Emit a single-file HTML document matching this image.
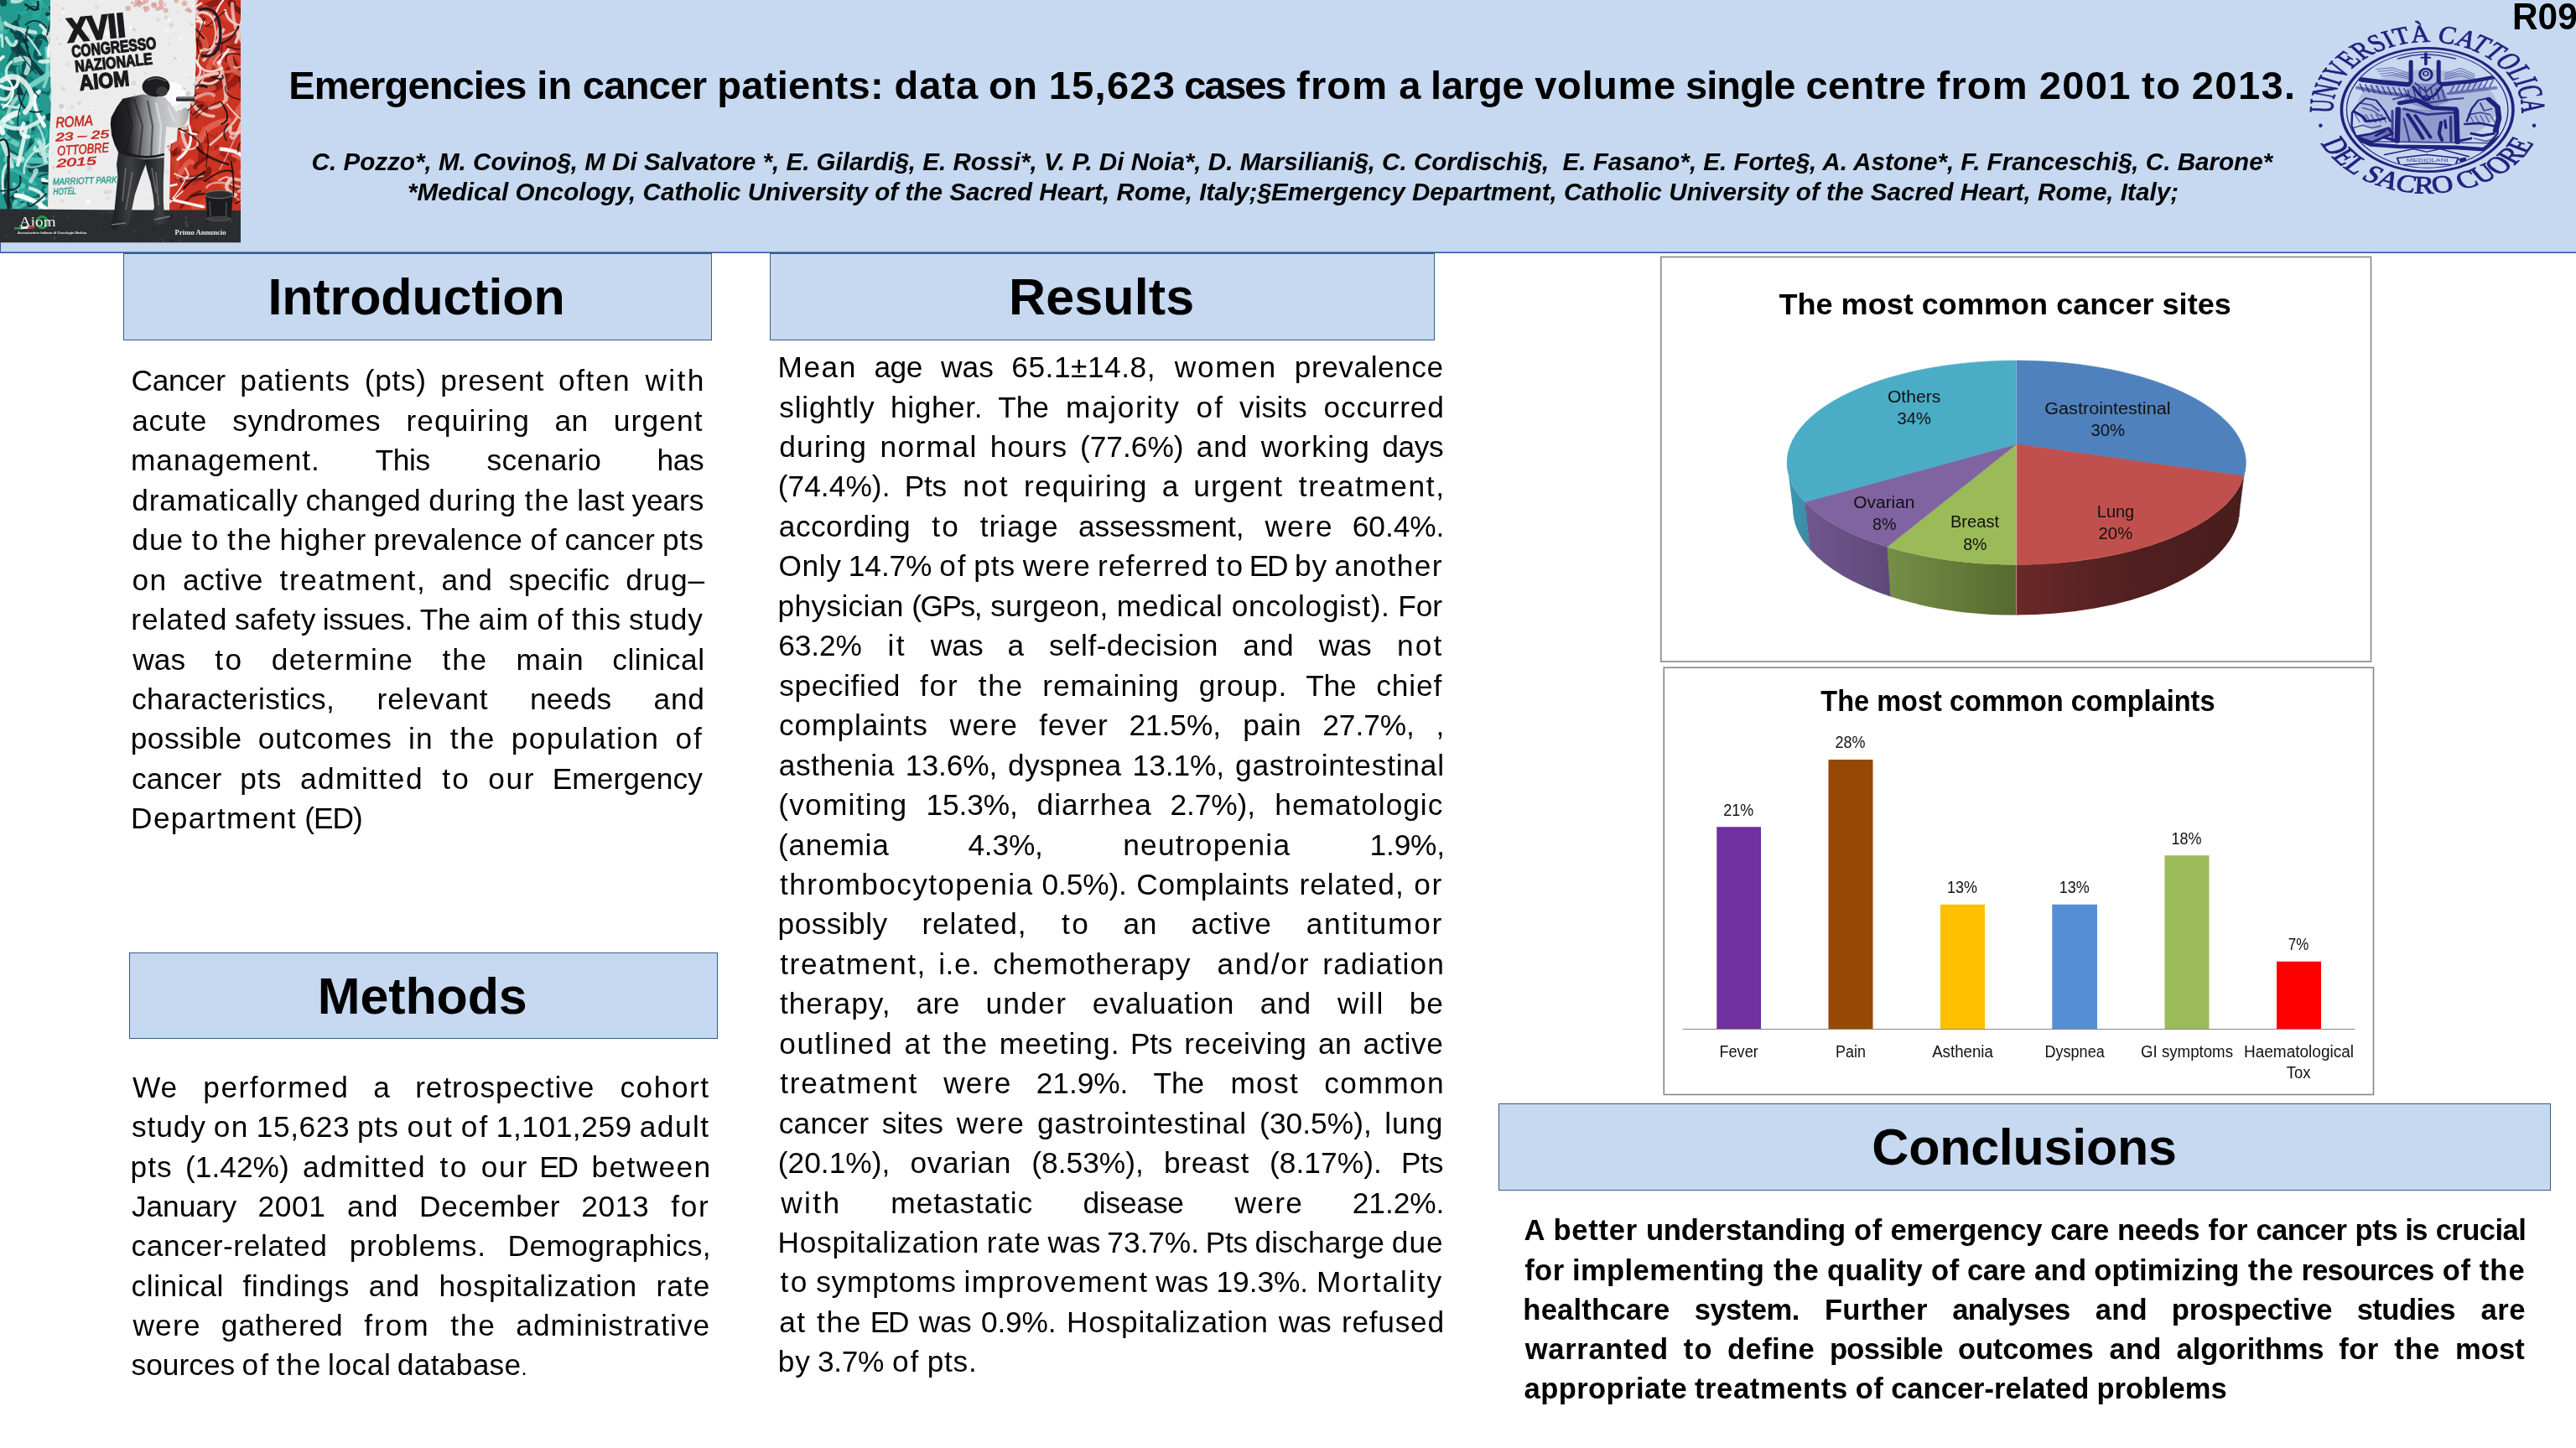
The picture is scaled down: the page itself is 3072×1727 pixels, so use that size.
<!DOCTYPE html>
<html lang="en"><head><meta charset="utf-8"><title>Emergencies in cancer patients</title>
<style>
html,body{margin:0;padding:0;background:#fff;}
body{width:3072px;height:1727px;position:relative;overflow:hidden;font-family:'Liberation Sans',sans-serif;color:#000;}
#poster{position:absolute;left:0;top:0;width:3072px;height:1727px;overflow:hidden;will-change:transform;}
.abs{position:absolute;}
.hdr{position:absolute;left:0;top:0;width:3072px;height:300px;background:#C6D9F1;border-left:1.3px solid #2F5597;box-sizing:border-box;}
.hline{position:absolute;left:0;width:3072px;height:1px;}
.box{position:absolute;background:#C6D9F1;border:1px solid #385D8A;box-sizing:border-box;}
.ln{position:absolute;white-space:pre;line-height:1;font-family:'Liberation Sans',sans-serif;}
.w{position:absolute;top:0;white-space:pre;}
.chartbox{position:absolute;background:#fff;border:1.6px solid #868686;box-sizing:border-box;}
svg{position:absolute;overflow:visible;}
svg text{font-family:'Liberation Sans',sans-serif;}
</style></head>
<body>
<div id="poster">
<div class="hdr"></div><div class="hline" style="top:300px;background:#6F8FC0"></div><div class="hline" style="top:301px;background:#2F5597"></div>
<svg style="left:0;top:0" width="287.0" height="289.5" viewBox="0 0 287.0 289.5">
<defs><clipPath id="lgAll"><rect x="0" y="0" width="287" height="289.5"/></clipPath><clipPath id="lgTeal"><path d="M0 0 H60 L59 60 L61 120 L58 180 L57 251 H0 Z"/></clipPath><clipPath id="lgRed"><path d="M233 0 L234 60 L232.5 112 L227 124 L226 150 L212 153 L211 168 L203.5 172 L202 251 H287 V0 Z"/></clipPath><linearGradient id="lgShirt" x1="0" x2="1" y1="0" y2="0"><stop offset="0" stop-color="#141416"/><stop offset="0.24" stop-color="#252527"/><stop offset="0.42" stop-color="#7d7e81"/><stop offset="0.6" stop-color="#b9babd"/><stop offset="0.85" stop-color="#cfd0d2"/><stop offset="1" stop-color="#a2a2a5"/></linearGradient><linearGradient id="lgLeg" x1="0" x2="1" y1="0" y2="0"><stop offset="0" stop-color="#1a1b1d"/><stop offset="0.55" stop-color="#3c3e42"/><stop offset="1" stop-color="#222326"/></linearGradient></defs>
<g clip-path="url(#lgAll)">
<rect x="0" y="0" width="287" height="252" fill="#ECECEC"/>
<circle cx="115.7" cy="37.7" r="2.2" fill="#d4d4d6" fill-opacity="0.8"/>
<circle cx="201.3" cy="23.5" r="2.0" fill="#ffffff" fill-opacity="0.8"/>
<circle cx="96.9" cy="21.5" r="1.6" fill="#dcdcde" fill-opacity="0.8"/>
<circle cx="75.6" cy="106.1" r="2.6" fill="#d4d4d6" fill-opacity="0.8"/>
<circle cx="223.0" cy="157.7" r="2.0" fill="#d4d4d6" fill-opacity="0.8"/>
<circle cx="159.3" cy="99.2" r="2.9" fill="#d4d4d6" fill-opacity="0.8"/>
<circle cx="155.7" cy="33.3" r="1.6" fill="#ffffff" fill-opacity="0.8"/>
<circle cx="80.3" cy="77.1" r="2.6" fill="#dcdcde" fill-opacity="0.8"/>
<circle cx="77.7" cy="142.8" r="1.1" fill="#d4d4d6" fill-opacity="0.8"/>
<circle cx="154.2" cy="15.7" r="0.7" fill="#dcdcde" fill-opacity="0.8"/>
<circle cx="145.4" cy="132.9" r="2.5" fill="#f8f8f8" fill-opacity="0.8"/>
<circle cx="160.7" cy="113.3" r="1.3" fill="#dcdcde" fill-opacity="0.8"/>
<circle cx="180.2" cy="61.0" r="2.0" fill="#ffffff" fill-opacity="0.8"/>
<circle cx="145.2" cy="85.9" r="1.7" fill="#ffffff" fill-opacity="0.8"/>
<circle cx="228.6" cy="29.5" r="1.6" fill="#c8c9cc" fill-opacity="0.8"/>
<circle cx="86.1" cy="122.2" r="0.7" fill="#d4d4d6" fill-opacity="0.8"/>
<circle cx="191.5" cy="143.3" r="2.7" fill="#c8c9cc" fill-opacity="0.8"/>
<circle cx="118.5" cy="87.5" r="1.8" fill="#f8f8f8" fill-opacity="0.8"/>
<circle cx="71.8" cy="23.4" r="1.2" fill="#d4d4d6" fill-opacity="0.8"/>
<circle cx="70.4" cy="175.4" r="2.2" fill="#f8f8f8" fill-opacity="0.8"/>
<circle cx="109.0" cy="96.4" r="2.2" fill="#d4d4d6" fill-opacity="0.8"/>
<circle cx="221.8" cy="88.9" r="2.1" fill="#f8f8f8" fill-opacity="0.8"/>
<circle cx="70.1" cy="192.1" r="0.9" fill="#dcdcde" fill-opacity="0.8"/>
<circle cx="128.4" cy="229.2" r="1.8" fill="#dcdcde" fill-opacity="0.8"/>
<circle cx="137.3" cy="137.4" r="2.7" fill="#f8f8f8" fill-opacity="0.8"/>
<circle cx="208.6" cy="69.6" r="1.6" fill="#c8c9cc" fill-opacity="0.8"/>
<circle cx="177.4" cy="95.1" r="1.2" fill="#d4d4d6" fill-opacity="0.8"/>
<circle cx="90.3" cy="58.0" r="1.2" fill="#f8f8f8" fill-opacity="0.8"/>
<circle cx="202.9" cy="45.6" r="1.3" fill="#dcdcde" fill-opacity="0.8"/>
<circle cx="132.1" cy="92.3" r="2.0" fill="#dcdcde" fill-opacity="0.8"/>
<circle cx="178.8" cy="128.9" r="2.1" fill="#d4d4d6" fill-opacity="0.8"/>
<circle cx="138.5" cy="217.7" r="2.9" fill="#ffffff" fill-opacity="0.8"/>
<circle cx="127.5" cy="99.7" r="0.8" fill="#f8f8f8" fill-opacity="0.8"/>
<circle cx="70.7" cy="16.8" r="1.1" fill="#dcdcde" fill-opacity="0.8"/>
<circle cx="78.9" cy="150.2" r="0.8" fill="#ffffff" fill-opacity="0.8"/>
<circle cx="86.0" cy="25.4" r="1.5" fill="#d4d4d6" fill-opacity="0.8"/>
<circle cx="72.1" cy="52.0" r="1.5" fill="#c8c9cc" fill-opacity="0.8"/>
<circle cx="224.3" cy="150.6" r="1.7" fill="#d4d4d6" fill-opacity="0.8"/>
<circle cx="206.0" cy="248.3" r="1.7" fill="#f8f8f8" fill-opacity="0.8"/>
<circle cx="113.6" cy="36.0" r="2.4" fill="#c8c9cc" fill-opacity="0.8"/>
<circle cx="142.3" cy="173.0" r="1.8" fill="#dcdcde" fill-opacity="0.8"/>
<circle cx="223.6" cy="132.1" r="1.0" fill="#ffffff" fill-opacity="0.8"/>
<circle cx="217.2" cy="189.5" r="1.3" fill="#d4d4d6" fill-opacity="0.8"/>
<circle cx="179.7" cy="65.3" r="1.5" fill="#dcdcde" fill-opacity="0.8"/>
<circle cx="121.2" cy="55.7" r="1.9" fill="#ffffff" fill-opacity="0.8"/>
<circle cx="116.7" cy="55.8" r="2.5" fill="#dcdcde" fill-opacity="0.8"/>
<circle cx="198.6" cy="204.6" r="2.4" fill="#dcdcde" fill-opacity="0.8"/>
<circle cx="94.4" cy="123.2" r="2.4" fill="#d4d4d6" fill-opacity="0.8"/>
<circle cx="195.9" cy="118.1" r="1.1" fill="#ffffff" fill-opacity="0.8"/>
<circle cx="224.5" cy="111.8" r="2.8" fill="#c8c9cc" fill-opacity="0.8"/>
<circle cx="224.3" cy="91.2" r="1.1" fill="#dcdcde" fill-opacity="0.8"/>
<circle cx="140.9" cy="84.4" r="1.8" fill="#ffffff" fill-opacity="0.8"/>
<circle cx="204.6" cy="119.9" r="2.2" fill="#d4d4d6" fill-opacity="0.8"/>
<circle cx="203.6" cy="30.0" r="1.5" fill="#dcdcde" fill-opacity="0.8"/>
<circle cx="142.2" cy="44.6" r="2.5" fill="#c8c9cc" fill-opacity="0.8"/>
<circle cx="74.9" cy="236.5" r="2.3" fill="#f8f8f8" fill-opacity="0.8"/>
<circle cx="129.0" cy="236.7" r="2.3" fill="#dcdcde" fill-opacity="0.8"/>
<circle cx="230.8" cy="6.9" r="2.0" fill="#f8f8f8" fill-opacity="0.8"/>
<circle cx="198.7" cy="36.5" r="2.6" fill="#f8f8f8" fill-opacity="0.8"/>
<circle cx="173.1" cy="87.6" r="1.9" fill="#dcdcde" fill-opacity="0.8"/>
<circle cx="63.7" cy="199.8" r="2.3" fill="#d4d4d6" fill-opacity="0.8"/>
<circle cx="150.6" cy="233.4" r="1.6" fill="#dcdcde" fill-opacity="0.8"/>
<circle cx="202.1" cy="52.8" r="1.2" fill="#c8c9cc" fill-opacity="0.8"/>
<circle cx="146.2" cy="190.9" r="1.4" fill="#ffffff" fill-opacity="0.8"/>
<circle cx="132.1" cy="32.8" r="2.8" fill="#c8c9cc" fill-opacity="0.8"/>
<circle cx="214.4" cy="165.6" r="2.6" fill="#ffffff" fill-opacity="0.8"/>
<circle cx="132.3" cy="229.4" r="1.8" fill="#ffffff" fill-opacity="0.8"/>
<circle cx="86.1" cy="127.6" r="2.7" fill="#dcdcde" fill-opacity="0.8"/>
<circle cx="164.7" cy="194.0" r="1.0" fill="#dcdcde" fill-opacity="0.8"/>
<circle cx="141.4" cy="181.3" r="1.9" fill="#c8c9cc" fill-opacity="0.8"/>
<circle cx="177.4" cy="132.7" r="1.8" fill="#d4d4d6" fill-opacity="0.8"/>
<circle cx="211.9" cy="14.2" r="1.1" fill="#d4d4d6" fill-opacity="0.8"/>
<circle cx="192.8" cy="126.9" r="1.9" fill="#d4d4d6" fill-opacity="0.8"/>
<circle cx="136.2" cy="153.1" r="1.8" fill="#ffffff" fill-opacity="0.8"/>
<circle cx="94.3" cy="69.3" r="1.8" fill="#f8f8f8" fill-opacity="0.8"/>
<circle cx="147.3" cy="61.9" r="1.9" fill="#c8c9cc" fill-opacity="0.8"/>
<circle cx="218.7" cy="223.2" r="1.1" fill="#f8f8f8" fill-opacity="0.8"/>
<circle cx="83.6" cy="30.4" r="1.7" fill="#d4d4d6" fill-opacity="0.8"/>
<circle cx="175.4" cy="107.1" r="1.1" fill="#c8c9cc" fill-opacity="0.8"/>
<circle cx="194.8" cy="224.3" r="1.0" fill="#c8c9cc" fill-opacity="0.8"/>
<circle cx="84.6" cy="220.7" r="2.9" fill="#dcdcde" fill-opacity="0.8"/>
<circle cx="188.4" cy="23.5" r="2.7" fill="#dcdcde" fill-opacity="0.8"/>
<circle cx="230.3" cy="208.1" r="1.0" fill="#f8f8f8" fill-opacity="0.8"/>
<circle cx="231.0" cy="101.0" r="1.6" fill="#c8c9cc" fill-opacity="0.8"/>
<circle cx="114.8" cy="180.5" r="0.6" fill="#ffffff" fill-opacity="0.8"/>
<circle cx="138.9" cy="175.8" r="1.5" fill="#ffffff" fill-opacity="0.8"/>
<circle cx="167.3" cy="128.1" r="0.8" fill="#dcdcde" fill-opacity="0.8"/>
<circle cx="227.1" cy="26.2" r="1.2" fill="#d4d4d6" fill-opacity="0.8"/>
<circle cx="215.8" cy="45.4" r="2.4" fill="#f8f8f8" fill-opacity="0.8"/>
<circle cx="206.1" cy="169.0" r="2.9" fill="#f8f8f8" fill-opacity="0.8"/>
<circle cx="85.7" cy="229.8" r="2.0" fill="#c8c9cc" fill-opacity="0.8"/>
<circle cx="75.4" cy="14.4" r="2.3" fill="#f8f8f8" fill-opacity="0.8"/>
<circle cx="214.0" cy="67.2" r="0.6" fill="#d4d4d6" fill-opacity="0.8"/>
<circle cx="197.9" cy="20.9" r="2.7" fill="#d4d4d6" fill-opacity="0.8"/>
<circle cx="105.5" cy="30.4" r="0.6" fill="#ffffff" fill-opacity="0.8"/>
<circle cx="131.9" cy="228.9" r="2.1" fill="#d4d4d6" fill-opacity="0.8"/>
<circle cx="150.6" cy="59.6" r="0.9" fill="#dcdcde" fill-opacity="0.8"/>
<circle cx="105.0" cy="45.3" r="2.8" fill="#c8c9cc" fill-opacity="0.8"/>
<circle cx="151.3" cy="51.5" r="1.7" fill="#dcdcde" fill-opacity="0.8"/>
<circle cx="106.5" cy="200.9" r="3.0" fill="#d4d4d6" fill-opacity="0.8"/>
<circle cx="62.6" cy="183.3" r="1.9" fill="#dcdcde" fill-opacity="0.8"/>
<circle cx="148.4" cy="61.4" r="1.7" fill="#f8f8f8" fill-opacity="0.8"/>
<circle cx="172.9" cy="136.5" r="2.7" fill="#ffffff" fill-opacity="0.8"/>
<circle cx="112.9" cy="53.8" r="1.2" fill="#dcdcde" fill-opacity="0.8"/>
<circle cx="203.2" cy="176.7" r="2.1" fill="#f8f8f8" fill-opacity="0.8"/>
<circle cx="230.2" cy="245.5" r="2.6" fill="#d4d4d6" fill-opacity="0.8"/>
<circle cx="72.2" cy="185.2" r="1.2" fill="#dcdcde" fill-opacity="0.8"/>
<circle cx="69.5" cy="166.3" r="1.5" fill="#ffffff" fill-opacity="0.8"/>
<circle cx="175.3" cy="70.5" r="1.2" fill="#c8c9cc" fill-opacity="0.8"/>
<circle cx="67.8" cy="46.3" r="1.2" fill="#d4d4d6" fill-opacity="0.8"/>
<circle cx="105.3" cy="240.4" r="2.9" fill="#ffffff" fill-opacity="0.8"/>
<circle cx="115.6" cy="8.6" r="2.7" fill="#dcdcde" fill-opacity="0.8"/>
<circle cx="121.3" cy="0.3" r="1.5" fill="#f8f8f8" fill-opacity="0.8"/>
<circle cx="108.0" cy="164.0" r="1.2" fill="#d4d4d6" fill-opacity="0.8"/>
<circle cx="75.6" cy="204.3" r="0.9" fill="#ffffff" fill-opacity="0.8"/>
<circle cx="67.2" cy="5.6" r="1.3" fill="#dcdcde" fill-opacity="0.8"/>
<circle cx="74.5" cy="239.4" r="2.6" fill="#dcdcde" fill-opacity="0.8"/>
<circle cx="173.1" cy="179.0" r="2.7" fill="#f8f8f8" fill-opacity="0.8"/>
<circle cx="191.5" cy="180.2" r="1.8" fill="#c8c9cc" fill-opacity="0.8"/>
<circle cx="184.6" cy="160.8" r="0.7" fill="#ffffff" fill-opacity="0.8"/>
<circle cx="167.9" cy="183.5" r="2.5" fill="#dcdcde" fill-opacity="0.8"/>
<circle cx="216.5" cy="188.2" r="2.0" fill="#d4d4d6" fill-opacity="0.8"/>
<circle cx="202.1" cy="146.0" r="2.7" fill="#dcdcde" fill-opacity="0.8"/>
<circle cx="74.6" cy="10.5" r="2.1" fill="#d4d4d6" fill-opacity="0.8"/>
<circle cx="124.8" cy="112.8" r="0.7" fill="#d4d4d6" fill-opacity="0.8"/>
<circle cx="167.7" cy="170.2" r="1.8" fill="#d4d4d6" fill-opacity="0.8"/>
<circle cx="138.6" cy="17.5" r="2.8" fill="#ffffff" fill-opacity="0.8"/>
<circle cx="75.8" cy="131.5" r="2.4" fill="#f8f8f8" fill-opacity="0.8"/>
<circle cx="103.4" cy="18.6" r="1.2" fill="#dcdcde" fill-opacity="0.8"/>
<circle cx="99.7" cy="162.5" r="1.7" fill="#f8f8f8" fill-opacity="0.8"/>
<circle cx="73.2" cy="227.6" r="1.3" fill="#d4d4d6" fill-opacity="0.8"/>
<circle cx="166.1" cy="160.7" r="0.8" fill="#dcdcde" fill-opacity="0.8"/>
<circle cx="117.1" cy="162.9" r="2.3" fill="#ffffff" fill-opacity="0.8"/>
<circle cx="157.7" cy="3.1" r="0.7" fill="#c8c9cc" fill-opacity="0.8"/>
<circle cx="227.3" cy="24.9" r="1.1" fill="#f8f8f8" fill-opacity="0.8"/>
<circle cx="110.0" cy="129.1" r="1.7" fill="#f8f8f8" fill-opacity="0.8"/>
<circle cx="192.0" cy="248.3" r="1.9" fill="#c8c9cc" fill-opacity="0.8"/>
<circle cx="228.2" cy="234.1" r="0.6" fill="#f8f8f8" fill-opacity="0.8"/>
<circle cx="73.2" cy="126.7" r="3.0" fill="#c8c9cc" fill-opacity="0.8"/>
<circle cx="126.5" cy="229.1" r="2.8" fill="#d4d4d6" fill-opacity="0.8"/>
<circle cx="160.0" cy="35.4" r="1.9" fill="#c8c9cc" fill-opacity="0.8"/>
<circle cx="82.8" cy="205.1" r="1.8" fill="#d4d4d6" fill-opacity="0.8"/>
<circle cx="181.0" cy="57.8" r="2.8" fill="#f8f8f8" fill-opacity="0.8"/>
<circle cx="127.8" cy="39.8" r="2.9" fill="#f8f8f8" fill-opacity="0.8"/>
<circle cx="129.7" cy="181.8" r="1.6" fill="#f8f8f8" fill-opacity="0.8"/>
<circle cx="114.4" cy="210.1" r="0.6" fill="#c8c9cc" fill-opacity="0.8"/>
<circle cx="204.3" cy="30.0" r="2.8" fill="#d4d4d6" fill-opacity="0.8"/>
<circle cx="215.1" cy="72.5" r="1.5" fill="#f8f8f8" fill-opacity="0.8"/>
<circle cx="127.1" cy="217.5" r="0.8" fill="#f8f8f8" fill-opacity="0.8"/>
<circle cx="190.0" cy="213.6" r="1.3" fill="#d4d4d6" fill-opacity="0.8"/>
<circle cx="220.1" cy="4.0" r="3.3" fill="#d9857c" fill-opacity="0.55"/>
<circle cx="170.9" cy="3.7" r="2.3" fill="#d9857c" fill-opacity="0.55"/>
<circle cx="165.9" cy="5.2" r="3.4" fill="#d9857c" fill-opacity="0.55"/>
<circle cx="224.3" cy="11.4" r="2.6" fill="#d9857c" fill-opacity="0.55"/>
<circle cx="226.7" cy="13.2" r="2.4" fill="#d9857c" fill-opacity="0.55"/>
<circle cx="210.4" cy="0.7" r="2.8" fill="#d9857c" fill-opacity="0.55"/>
<circle cx="187.9" cy="10.5" r="2.6" fill="#d9857c" fill-opacity="0.55"/>
<circle cx="174.0" cy="0.7" r="3.3" fill="#d9857c" fill-opacity="0.55"/>
<circle cx="160.7" cy="6.6" r="1.9" fill="#d9857c" fill-opacity="0.55"/>
<circle cx="175.0" cy="10.3" r="3.4" fill="#d9857c" fill-opacity="0.55"/>
<circle cx="171.9" cy="9.2" r="1.8" fill="#d9857c" fill-opacity="0.55"/>
<circle cx="196.8" cy="5.5" r="1.4" fill="#d9857c" fill-opacity="0.55"/>
<circle cx="163.6" cy="2.9" r="3.3" fill="#d9857c" fill-opacity="0.55"/>
<circle cx="191.8" cy="3.1" r="3.3" fill="#d9857c" fill-opacity="0.55"/>
<circle cx="233.7" cy="6.3" r="1.3" fill="#d9857c" fill-opacity="0.55"/>
<circle cx="166.2" cy="1.3" r="1.9" fill="#d9857c" fill-opacity="0.55"/>
<circle cx="157.7" cy="3.3" r="1.6" fill="#d9857c" fill-opacity="0.55"/>
<circle cx="197.8" cy="12.4" r="2.9" fill="#d9857c" fill-opacity="0.55"/>
<circle cx="184.7" cy="5.8" r="2.3" fill="#d9857c" fill-opacity="0.55"/>
<circle cx="181.7" cy="4.7" r="1.2" fill="#d9857c" fill-opacity="0.55"/>
<circle cx="173.3" cy="13.5" r="1.3" fill="#d9857c" fill-opacity="0.55"/>
<circle cx="192.3" cy="8.8" r="3.2" fill="#d9857c" fill-opacity="0.55"/>
<circle cx="168.1" cy="3.8" r="1.6" fill="#d9857c" fill-opacity="0.55"/>
<circle cx="183.6" cy="6.2" r="3.4" fill="#d9857c" fill-opacity="0.55"/>
<circle cx="221.3" cy="12.2" r="1.1" fill="#d9857c" fill-opacity="0.55"/>
<circle cx="152.7" cy="9.9" r="3.2" fill="#d9857c" fill-opacity="0.55"/>
<circle cx="216.1" cy="188.1" r="0.8" fill="#d2574b" fill-opacity="0.6"/>
<circle cx="213.3" cy="239.0" r="2.0" fill="#d2574b" fill-opacity="0.6"/>
<circle cx="229.1" cy="245.8" r="1.1" fill="#d2574b" fill-opacity="0.6"/>
<circle cx="203.7" cy="123.2" r="1.5" fill="#d2574b" fill-opacity="0.6"/>
<circle cx="223.2" cy="241.2" r="1.8" fill="#d2574b" fill-opacity="0.6"/>
<circle cx="222.0" cy="214.7" r="1.4" fill="#d2574b" fill-opacity="0.6"/>
<circle cx="218.8" cy="105.9" r="1.9" fill="#d2574b" fill-opacity="0.6"/>
<circle cx="207.9" cy="238.0" r="1.7" fill="#d2574b" fill-opacity="0.6"/>
<circle cx="210.3" cy="119.2" r="1.2" fill="#d2574b" fill-opacity="0.6"/>
<circle cx="221.6" cy="204.8" r="1.0" fill="#d2574b" fill-opacity="0.6"/>
<circle cx="202.4" cy="178.7" r="1.6" fill="#d2574b" fill-opacity="0.6"/>
<circle cx="213.2" cy="133.5" r="1.6" fill="#d2574b" fill-opacity="0.6"/>
<circle cx="200.4" cy="145.2" r="1.4" fill="#d2574b" fill-opacity="0.6"/>
<circle cx="232.6" cy="196.7" r="2.0" fill="#d2574b" fill-opacity="0.6"/>
<circle cx="216.2" cy="135.2" r="1.1" fill="#d2574b" fill-opacity="0.6"/>
<circle cx="232.7" cy="205.7" r="1.2" fill="#d2574b" fill-opacity="0.6"/>
<circle cx="200.7" cy="174.7" r="1.7" fill="#d2574b" fill-opacity="0.6"/>
<circle cx="214.3" cy="138.6" r="1.7" fill="#d2574b" fill-opacity="0.6"/>
<g clip-path="url(#lgTeal)"><rect x="0" y="0" width="62" height="252" fill="#239A8F"/>
<path d="M62.3 56.7 Q56.5 68.0 56.4 66.2" stroke="#0B4A4C" stroke-width="3.0" stroke-opacity="0.82" fill="none" stroke-linecap="round"/>
<path d="M56.2 16.9 Q70.1 19.1 64.8 43.4" stroke="#0d3b40" stroke-width="4.3" stroke-opacity="0.94" fill="none" stroke-linecap="round"/>
<path d="M14.4 238.0 Q9.8 247.9 25.1 263.7" stroke="#0E5A58" stroke-width="8.7" stroke-opacity="0.79" fill="none" stroke-linecap="round"/>
<path d="M21.9 53.2 Q19.9 54.9 50.2 88.3" stroke="#0d3b40" stroke-width="5.7" stroke-opacity="0.93" fill="none" stroke-linecap="round"/>
<path d="M15.9 28.3 Q8.0 39.3 22.4 39.4" stroke="#0d3b40" stroke-width="3.2" stroke-opacity="0.92" fill="none" stroke-linecap="round"/>
<path d="M20.8 93.5 Q8.2 95.1 31.4 112.6" stroke="#137C74" stroke-width="5.5" stroke-opacity="0.97" fill="none" stroke-linecap="round"/>
<path d="M34.6 189.7 Q29.1 188.9 37.4 166.2" stroke="#0E5A58" stroke-width="3.3" stroke-opacity="0.87" fill="none" stroke-linecap="round"/>
<path d="M20.3 229.9 Q29.0 219.3 9.2 242.6" stroke="#0d3b40" stroke-width="4.5" stroke-opacity="0.91" fill="none" stroke-linecap="round"/>
<path d="M22.8 93.9 Q11.4 70.3 31.5 68.7" stroke="#0E5A58" stroke-width="8.4" stroke-opacity="0.83" fill="none" stroke-linecap="round"/>
<path d="M12.7 239.4 Q19.3 248.9 10.2 271.5" stroke="#137C74" stroke-width="4.8" stroke-opacity="0.93" fill="none" stroke-linecap="round"/>
<path d="M37.3 201.4 Q69.2 196.1 77.7 219.0" stroke="#0d3b40" stroke-width="8.7" stroke-opacity="0.85" fill="none" stroke-linecap="round"/>
<path d="M11.1 107.5 Q12.2 112.3 36.1 95.4" stroke="#137C74" stroke-width="7.9" stroke-opacity="0.94" fill="none" stroke-linecap="round"/>
<path d="M38.2 81.9 Q41.4 75.0 24.3 98.4" stroke="#0B4A4C" stroke-width="5.4" stroke-opacity="0.79" fill="none" stroke-linecap="round"/>
<path d="M23.0 162.4 Q-2.4 156.0 -3.3 154.8" stroke="#0E5A58" stroke-width="8.9" stroke-opacity="0.82" fill="none" stroke-linecap="round"/>
<path d="M-1.6 24.1 Q-7.0 1.0 -8.6 -3.0" stroke="#0d3b40" stroke-width="5.8" stroke-opacity="0.97" fill="none" stroke-linecap="round"/>
<path d="M9.9 134.6 Q21.1 108.3 12.1 96.9" stroke="#137C74" stroke-width="6.4" stroke-opacity="0.84" fill="none" stroke-linecap="round"/>
<path d="M48.1 49.8 Q35.9 73.1 48.6 68.7" stroke="#0B4A4C" stroke-width="5.0" stroke-opacity="0.85" fill="none" stroke-linecap="round"/>
<path d="M67.4 126.8 Q76.2 136.0 74.0 109.7" stroke="#0E5A58" stroke-width="3.0" stroke-opacity="0.97" fill="none" stroke-linecap="round"/>
<path d="M9.6 112.1 Q8.3 87.7 26.3 95.7" stroke="#0B4A4C" stroke-width="8.6" stroke-opacity="0.84" fill="none" stroke-linecap="round"/>
<path d="M57.8 112.3 Q75.6 88.6 61.2 93.2" stroke="#137C74" stroke-width="4.3" stroke-opacity="0.84" fill="none" stroke-linecap="round"/>
<path d="M2.7 51.0 Q0.4 34.7 -12.8 39.8" stroke="#0E5A58" stroke-width="7.9" stroke-opacity="0.85" fill="none" stroke-linecap="round"/>
<path d="M20.3 155.3 Q26.4 155.9 32.8 157.8" stroke="#0d3b40" stroke-width="3.6" stroke-opacity="0.85" fill="none" stroke-linecap="round"/>
<path d="M33.8 159.8 Q44.3 162.2 40.7 171.2" stroke="#137C74" stroke-width="7.0" stroke-opacity="0.85" fill="none" stroke-linecap="round"/>
<path d="M-4.1 186.3 Q-39.4 206.7 -40.0 207.8" stroke="#137C74" stroke-width="6.9" stroke-opacity="0.85" fill="none" stroke-linecap="round"/>
<path d="M22.8 235.5 Q16.0 231.4 37.0 256.8" stroke="#137C74" stroke-width="5.8" stroke-opacity="0.79" fill="none" stroke-linecap="round"/>
<path d="M-6.9 137.9 Q-7.7 133.4 21.0 120.1" stroke="#137C74" stroke-width="7.4" stroke-opacity="0.79" fill="none" stroke-linecap="round"/>
<path d="M18.4 40.5 Q21.6 52.9 33.2 47.1" stroke="#0B4A4C" stroke-width="4.8" stroke-opacity="0.96" fill="none" stroke-linecap="round"/>
<path d="M-4.7 228.2 Q-8.1 206.6 -21.3 214.9" stroke="#0B4A4C" stroke-width="6.8" stroke-opacity="0.96" fill="none" stroke-linecap="round"/>
<path d="M39.2 153.7 Q33.1 138.6 22.4 156.6" stroke="#0B4A4C" stroke-width="5.3" stroke-opacity="0.78" fill="none" stroke-linecap="round"/>
<path d="M10.8 181.2 Q33.5 195.9 51.7 192.0" stroke="#0E5A58" stroke-width="7.0" stroke-opacity="0.83" fill="none" stroke-linecap="round"/>
<path d="M21.6 113.9 Q30.6 87.1 28.7 74.0" stroke="#0B4A4C" stroke-width="5.6" stroke-opacity="0.91" fill="none" stroke-linecap="round"/>
<path d="M26.0 109.6 Q21.6 96.4 18.0 102.2" stroke="#0d3b40" stroke-width="8.0" stroke-opacity="0.95" fill="none" stroke-linecap="round"/>
<path d="M22.4 16.8 Q25.7 25.5 7.2 33.9" stroke="#0E5A58" stroke-width="3.2" stroke-opacity="0.78" fill="none" stroke-linecap="round"/>
<path d="M62.1 78.4 Q86.9 101.3 93.6 95.7" stroke="#0B4A4C" stroke-width="3.2" stroke-opacity="0.77" fill="none" stroke-linecap="round"/>
<path d="M38.7 173.1 Q57.3 170.6 48.1 183.4" stroke="#0B4A4C" stroke-width="7.1" stroke-opacity="0.93" fill="none" stroke-linecap="round"/>
<path d="M8.8 208.3 Q2.2 228.3 8.4 240.2" stroke="#0d3b40" stroke-width="3.9" stroke-opacity="0.88" fill="none" stroke-linecap="round"/>
<path d="M61.9 52.1 Q45.7 35.0 42.5 51.3" stroke="#0B4A4C" stroke-width="5.4" stroke-opacity="0.91" fill="none" stroke-linecap="round"/>
<path d="M13.1 82.0 Q7.7 80.2 19.3 59.2" stroke="#0E5A58" stroke-width="6.8" stroke-opacity="0.84" fill="none" stroke-linecap="round"/>
<path d="M58.3 138.8 Q55.5 146.2 81.2 118.0" stroke="#0d3b40" stroke-width="7.4" stroke-opacity="0.84" fill="none" stroke-linecap="round"/>
<path d="M20.6 92.2 Q1.8 89.2 13.1 105.6" stroke="#0E5A58" stroke-width="4.8" stroke-opacity="0.88" fill="none" stroke-linecap="round"/>
<path d="M15.6 241.5 Q48.4 240.9 52.8 223.5" stroke="#0E5A58" stroke-width="4.3" stroke-opacity="0.82" fill="none" stroke-linecap="round"/>
<path d="M39.5 104.4 Q50.2 111.9 61.6 111.3" stroke="#0E5A58" stroke-width="3.1" stroke-opacity="0.75" fill="none" stroke-linecap="round"/>
<path d="M19.0 26.6 Q23.8 41.1 22.7 49.1" stroke="#0B4A4C" stroke-width="5.2" stroke-opacity="0.96" fill="none" stroke-linecap="round"/>
<path d="M4.1 3.5 Q-2.8 -30.9 -6.2 -33.9" stroke="#0B4A4C" stroke-width="8.2" stroke-opacity="0.95" fill="none" stroke-linecap="round"/>
<path d="M22.5 66.1 Q21.6 56.6 16.2 57.8" stroke="#0d3b40" stroke-width="6.6" stroke-opacity="0.88" fill="none" stroke-linecap="round"/>
<path d="M29.5 41.3 Q17.0 31.8 38.7 45.1" stroke="#0B4A4C" stroke-width="3.4" stroke-opacity="0.94" fill="none" stroke-linecap="round"/>
<path d="M-7.1 137.7 Q-4.1 158.7 20.4 171.9" stroke="#7AD3C8" stroke-width="6.2" stroke-opacity="0.79" fill="none" stroke-linecap="round"/>
<path d="M15.5 75.1 Q30.2 79.1 24.5 67.5" stroke="#39B8AA" stroke-width="4.2" stroke-opacity="0.86" fill="none" stroke-linecap="round"/>
<path d="M61.3 20.1 Q86.8 26.5 76.5 50.1" stroke="#39B8AA" stroke-width="3.1" stroke-opacity="0.97" fill="none" stroke-linecap="round"/>
<path d="M62.3 235.7 Q76.4 245.3 80.7 242.0" stroke="#2CA89C" stroke-width="3.8" stroke-opacity="0.98" fill="none" stroke-linecap="round"/>
<path d="M60.0 21.4 Q81.4 46.0 73.6 46.1" stroke="#58C9BC" stroke-width="6.8" stroke-opacity="0.94" fill="none" stroke-linecap="round"/>
<path d="M16.8 220.0 Q32.3 235.6 18.3 241.8" stroke="#7AD3C8" stroke-width="4.6" stroke-opacity="0.88" fill="none" stroke-linecap="round"/>
<path d="M-7.5 6.6 Q8.6 39.1 -3.0 50.8" stroke="#7AD3C8" stroke-width="5.3" stroke-opacity="0.77" fill="none" stroke-linecap="round"/>
<path d="M61.2 36.1 Q81.0 34.0 69.8 43.0" stroke="#58C9BC" stroke-width="5.7" stroke-opacity="0.76" fill="none" stroke-linecap="round"/>
<path d="M2.5 160.9 Q-8.5 176.1 13.0 165.7" stroke="#2CA89C" stroke-width="3.4" stroke-opacity="0.99" fill="none" stroke-linecap="round"/>
<path d="M32.6 166.0 Q40.9 141.0 34.1 124.4" stroke="#58C9BC" stroke-width="3.4" stroke-opacity="0.78" fill="none" stroke-linecap="round"/>
<path d="M-5.4 211.9 Q-6.7 202.0 -31.5 182.6" stroke="#2CA89C" stroke-width="4.6" stroke-opacity="0.78" fill="none" stroke-linecap="round"/>
<path d="M52.2 161.6 Q38.3 165.0 41.5 179.2" stroke="#2CA89C" stroke-width="2.7" stroke-opacity="0.94" fill="none" stroke-linecap="round"/>
<path d="M61.2 192.3 Q37.9 203.5 29.9 197.1" stroke="#7AD3C8" stroke-width="2.6" stroke-opacity="0.88" fill="none" stroke-linecap="round"/>
<path d="M-0.5 117.2 Q1.8 126.7 -11.3 112.5" stroke="#2CA89C" stroke-width="3.3" stroke-opacity="0.75" fill="none" stroke-linecap="round"/>
<path d="M7.4 190.5 Q29.6 190.9 52.5 191.8" stroke="#58C9BC" stroke-width="6.9" stroke-opacity="0.90" fill="none" stroke-linecap="round"/>
<path d="M64.7 128.8 Q84.4 157.5 81.4 154.7" stroke="#58C9BC" stroke-width="4.7" stroke-opacity="0.78" fill="none" stroke-linecap="round"/>
<path d="M40.4 20.2 Q44.5 6.7 27.9 -16.0" stroke="#2CA89C" stroke-width="2.9" stroke-opacity="0.98" fill="none" stroke-linecap="round"/>
<path d="M59.8 186.3 Q47.5 169.2 44.4 166.3" stroke="#7AD3C8" stroke-width="6.6" stroke-opacity="0.88" fill="none" stroke-linecap="round"/>
<path d="M20.8 221.0 Q13.0 232.4 3.0 225.5" stroke="#39B8AA" stroke-width="4.1" stroke-opacity="0.83" fill="none" stroke-linecap="round"/>
<path d="M3.8 210.8 Q-8.9 191.7 2.1 177.0" stroke="#2CA89C" stroke-width="5.1" stroke-opacity="0.78" fill="none" stroke-linecap="round"/>
<path d="M27.1 221.3 Q23.3 237.3 33.8 238.6" stroke="#58C9BC" stroke-width="5.8" stroke-opacity="0.99" fill="none" stroke-linecap="round"/>
<path d="M47.0 150.7 Q64.3 153.3 48.9 173.2" stroke="#39B8AA" stroke-width="3.2" stroke-opacity="0.91" fill="none" stroke-linecap="round"/>
<path d="M6.9 37.7 Q-2.9 36.9 1.9 52.3" stroke="#39B8AA" stroke-width="5.4" stroke-opacity="0.78" fill="none" stroke-linecap="round"/>
<path d="M7.7 97.1 Q13.6 107.4 -1.3 103.7" stroke="#2CA89C" stroke-width="4.6" stroke-opacity="0.79" fill="none" stroke-linecap="round"/>
<path d="M37.9 101.2 Q50.7 93.8 68.6 81.1" stroke="#7AD3C8" stroke-width="6.3" stroke-opacity="0.92" fill="none" stroke-linecap="round"/>
<path d="M41.6 219.4 Q17.5 199.6 13.0 202.8" stroke="#39B8AA" stroke-width="4.5" stroke-opacity="0.83" fill="none" stroke-linecap="round"/>
<path d="M39.7 24.5 Q50.0 16.8 44.8 -0.1" stroke="#2CA89C" stroke-width="6.3" stroke-opacity="0.87" fill="none" stroke-linecap="round"/>
<path d="M-6.5 214.6 Q-0.7 216.7 -21.7 190.3" stroke="#2CA89C" stroke-width="6.0" stroke-opacity="0.85" fill="none" stroke-linecap="round"/>
<path d="M29.2 243.7 Q11.5 252.3 18.3 240.6" stroke="#58C9BC" stroke-width="4.8" stroke-opacity="0.78" fill="none" stroke-linecap="round"/>
<path d="M35.7 135.3 Q22.8 145.7 -0.1 132.5" stroke="#2CA89C" stroke-width="4.3" stroke-opacity="0.99" fill="none" stroke-linecap="round"/>
<path d="M8.0 171.1 Q-4.7 176.5 9.9 147.0" stroke="#2CA89C" stroke-width="5.4" stroke-opacity="0.81" fill="none" stroke-linecap="round"/>
<path d="M21.0 15.4 Q31.1 18.5 32.0 8.9" stroke="#2CA89C" stroke-width="3.0" stroke-opacity="0.83" fill="none" stroke-linecap="round"/>
<path d="M22.4 238.4 Q61.5 236.2 67.4 236.8" stroke="#58C9BC" stroke-width="3.1" stroke-opacity="0.94" fill="none" stroke-linecap="round"/>
<path d="M53.5 158.6 Q31.2 170.2 28.7 148.4" stroke="#2CA89C" stroke-width="5.5" stroke-opacity="0.96" fill="none" stroke-linecap="round"/>
<path d="M52.4 103.3 Q59.2 90.5 55.3 57.5" stroke="#7AD3C8" stroke-width="4.1" stroke-opacity="0.96" fill="none" stroke-linecap="round"/>
<path d="M12.3 94.0 Q-7.5 80.4 -4.8 102.6" stroke="#2CA89C" stroke-width="4.1" stroke-opacity="0.91" fill="none" stroke-linecap="round"/>
<path d="M16.3 121.2 Q44.6 117.0 44.2 137.8" stroke="#2CA89C" stroke-width="6.3" stroke-opacity="0.76" fill="none" stroke-linecap="round"/>
<path d="M54.9 226.5 Q79.0 246.0 79.2 256.0" stroke="#39B8AA" stroke-width="5.5" stroke-opacity="0.80" fill="none" stroke-linecap="round"/>
<path d="M-2.5 73.2 Q-3.8 54.4 -30.6 58.1" stroke="#7AD3C8" stroke-width="4.1" stroke-opacity="0.79" fill="none" stroke-linecap="round"/>
<path d="M60.7 197.9 Q70.8 203.0 73.1 187.8" stroke="#2CA89C" stroke-width="3.4" stroke-opacity="0.92" fill="none" stroke-linecap="round"/>
<path d="M32.3 185.5 Q43.9 168.3 51.4 168.1" stroke="#58C9BC" stroke-width="6.2" stroke-opacity="0.87" fill="none" stroke-linecap="round"/>
<path d="M34.3 121.1 Q18.7 88.7 21.3 80.5" stroke="#39B8AA" stroke-width="3.2" stroke-opacity="0.83" fill="none" stroke-linecap="round"/>
<path d="M44.9 124.4 Q32.1 144.6 24.7 128.8" stroke="#39B8AA" stroke-width="3.3" stroke-opacity="0.84" fill="none" stroke-linecap="round"/>
<path d="M41.1 5.1 Q58.6 10.4 40.2 -6.5" stroke="#39B8AA" stroke-width="4.8" stroke-opacity="0.87" fill="none" stroke-linecap="round"/>
<path d="M60.2 8.5 Q41.8 8.8 34.9 -16.9" stroke="#2CA89C" stroke-width="4.0" stroke-opacity="0.94" fill="none" stroke-linecap="round"/>
<path d="M34.1 228.1 Q19.6 220.5 23.1 245.0" stroke="#2CA89C" stroke-width="3.8" stroke-opacity="0.96" fill="none" stroke-linecap="round"/>
<path d="M22.7 125.9 Q29.9 131.1 2.9 125.1" stroke="#E9F5F3" stroke-width="3.4" stroke-opacity="0.83" fill="none" stroke-linecap="round"/>
<path d="M14.7 146.6 Q1.7 138.6 21.7 114.5" stroke="#BFE6E0" stroke-width="4.4" stroke-opacity="0.76" fill="none" stroke-linecap="round"/>
<path d="M14.8 1.6 Q26.2 3.3 29.7 -6.4" stroke="#BFE6E0" stroke-width="4.7" stroke-opacity="0.91" fill="none" stroke-linecap="round"/>
<path d="M44.9 149.1 Q55.0 164.3 53.0 182.6" stroke="#D5EEEA" stroke-width="2.3" stroke-opacity="0.80" fill="none" stroke-linecap="round"/>
<path d="M-5.2 193.6 Q-21.9 187.4 -29.1 158.0" stroke="#ffffff" stroke-width="4.4" stroke-opacity="0.81" fill="none" stroke-linecap="round"/>
<path d="M15.0 105.4 Q10.3 125.6 -4.5 114.5" stroke="#E9F5F3" stroke-width="4.1" stroke-opacity="0.88" fill="none" stroke-linecap="round"/>
<path d="M54.7 193.4 Q47.0 166.0 46.3 169.7" stroke="#BFE6E0" stroke-width="4.6" stroke-opacity="1.00" fill="none" stroke-linecap="round"/>
<path d="M42.1 38.8 Q9.1 32.1 6.2 27.4" stroke="#D5EEEA" stroke-width="4.7" stroke-opacity="0.86" fill="none" stroke-linecap="round"/>
<path d="M-7.3 167.3 Q-3.1 136.0 21.4 132.0" stroke="#BFE6E0" stroke-width="1.9" stroke-opacity="0.93" fill="none" stroke-linecap="round"/>
<path d="M10.4 183.4 Q28.2 193.7 26.3 188.6" stroke="#D5EEEA" stroke-width="5.2" stroke-opacity="0.77" fill="none" stroke-linecap="round"/>
<path d="M39.8 177.3 Q43.0 188.5 64.0 166.3" stroke="#E9F5F3" stroke-width="1.9" stroke-opacity="0.75" fill="none" stroke-linecap="round"/>
<path d="M41.5 204.3 Q47.3 198.3 36.6 216.3" stroke="#BFE6E0" stroke-width="4.7" stroke-opacity="0.83" fill="none" stroke-linecap="round"/>
<path d="M64.1 181.9 Q87.6 179.8 77.6 205.2" stroke="#D5EEEA" stroke-width="4.8" stroke-opacity="0.85" fill="none" stroke-linecap="round"/>
<path d="M21.3 196.6 Q28.5 167.6 30.8 153.6" stroke="#E9F5F3" stroke-width="4.7" stroke-opacity="0.91" fill="none" stroke-linecap="round"/>
<path d="M52.9 150.0 Q32.4 117.0 46.7 109.2" stroke="#ffffff" stroke-width="4.5" stroke-opacity="0.99" fill="none" stroke-linecap="round"/>
<path d="M10.7 96.8 Q2.7 83.4 13.9 73.5" stroke="#E9F5F3" stroke-width="3.3" stroke-opacity="0.82" fill="none" stroke-linecap="round"/>
<path d="M4.0 230.1 Q0.2 198.9 11.7 193.5" stroke="#D5EEEA" stroke-width="3.1" stroke-opacity="0.96" fill="none" stroke-linecap="round"/>
<path d="M53.3 171.2 Q26.1 190.7 28.8 206.4" stroke="#BFE6E0" stroke-width="2.7" stroke-opacity="0.94" fill="none" stroke-linecap="round"/>
<path d="M62.8 58.5 Q54.6 33.6 48.8 29.9" stroke="#ffffff" stroke-width="4.6" stroke-opacity="0.75" fill="none" stroke-linecap="round"/>
<path d="M21.3 135.1 Q-3.5 143.0 3.3 158.3" stroke="#ffffff" stroke-width="6.0" stroke-opacity="0.88" fill="none" stroke-linecap="round"/>
<path d="M28.2 147.3 Q19.7 162.4 34.2 163.0" stroke="#ffffff" stroke-width="4.5" stroke-opacity="0.84" fill="none" stroke-linecap="round"/>
<path d="M51.3 214.2 Q59.4 223.0 67.9 205.4" stroke="#ffffff" stroke-width="4.8" stroke-opacity="0.95" fill="none" stroke-linecap="round"/>
<path d="M3.9 149.3 Q-24.5 131.1 -18.4 146.6" stroke="#BFE6E0" stroke-width="4.6" stroke-opacity="0.80" fill="none" stroke-linecap="round"/>
<path d="M62.3 70.0 Q59.3 76.1 49.6 74.4" stroke="#D5EEEA" stroke-width="3.0" stroke-opacity="0.76" fill="none" stroke-linecap="round"/>
<path d="M7.3 45.2 Q15.5 60.6 19.6 49.3" stroke="#BFE6E0" stroke-width="4.1" stroke-opacity="0.96" fill="none" stroke-linecap="round"/>
<path d="M60.0 215.7 Q82.0 193.2 89.2 200.2" stroke="#ffffff" stroke-width="4.5" stroke-opacity="0.91" fill="none" stroke-linecap="round"/>
<path d="M64.7 167.4 Q41.0 188.0 41.8 175.1" stroke="#D5EEEA" stroke-width="2.6" stroke-opacity="0.99" fill="none" stroke-linecap="round"/>
<path d="M63.5 14.8 Q93.3 8.7 93.0 20.0" stroke="#BFE6E0" stroke-width="2.1" stroke-opacity="0.79" fill="none" stroke-linecap="round"/>
<path d="M49.4 234.8 Q47.5 260.5 39.0 267.6" stroke="#E9F5F3" stroke-width="4.0" stroke-opacity="0.84" fill="none" stroke-linecap="round"/>
<path d="M21.6 93.7 Q21.7 112.9 -0.4 102.3" stroke="#E9F5F3" stroke-width="4.0" stroke-opacity="0.98" fill="none" stroke-linecap="round"/>
<path d="M52.7 39.2 Q74.6 44.1 88.0 58.0" stroke="#D5EEEA" stroke-width="5.5" stroke-opacity="0.99" fill="none" stroke-linecap="round"/>
<path d="M62.4 96.3 Q84.2 92.3 72.0 101.2" stroke="#D5EEEA" stroke-width="4.0" stroke-opacity="0.91" fill="none" stroke-linecap="round"/>
<path d="M2.9 55.4 Q3.4 36.8 0.1 43.7" stroke="#D5EEEA" stroke-width="3.1" stroke-opacity="0.85" fill="none" stroke-linecap="round"/>
<path d="M3.8 67.8 Q-18.3 84.8 -16.5 102.5" stroke="#ffffff" stroke-width="3.9" stroke-opacity="0.87" fill="none" stroke-linecap="round"/>
<path d="M3.7 128.4 Q22.8 114.6 11.3 96.6" stroke="#ffffff" stroke-width="2.4" stroke-opacity="0.94" fill="none" stroke-linecap="round"/>
<path d="M65.8 108.0 Q57.0 113.7 67.2 127.4" stroke="#BFE6E0" stroke-width="6.0" stroke-opacity="0.76" fill="none" stroke-linecap="round"/>
<path d="M47.2 73.4 Q80.8 69.9 92.2 77.9" stroke="#D5EEEA" stroke-width="3.9" stroke-opacity="0.95" fill="none" stroke-linecap="round"/>
<path d="M63.7 71.6 Q71.6 66.5 85.9 77.4" stroke="#D5EEEA" stroke-width="2.4" stroke-opacity="0.80" fill="none" stroke-linecap="round"/>
<path d="M50.6 177.9 Q43.2 185.9 65.6 186.1" stroke="#BFE6E0" stroke-width="5.4" stroke-opacity="0.79" fill="none" stroke-linecap="round"/>
<path d="M2.4 167.5 Q1.3 165.1 14.0 198.0" stroke="#BFE6E0" stroke-width="5.8" stroke-opacity="0.98" fill="none" stroke-linecap="round"/>
<path d="M31.4 86.9 Q41.0 64.4 18.5 71.5" stroke="#BFE6E0" stroke-width="6.1" stroke-opacity="0.87" fill="none" stroke-linecap="round"/>
<path d="M58.3 66.6 Q57.6 47.2 66.5 52.0" stroke="#ffffff" stroke-width="4.5" stroke-opacity="0.96" fill="none" stroke-linecap="round"/>
<path d="M19.1 233.0 Q34.1 233.6 59.5 252.5" stroke="#ffffff" stroke-width="5.5" stroke-opacity="0.97" fill="none" stroke-linecap="round"/>
<path d="M35.8 224.5 Q52.1 229.0 51.8 237.3" stroke="#E9F5F3" stroke-width="4.3" stroke-opacity="0.88" fill="none" stroke-linecap="round"/>
<path d="M-6.4 241.9 Q-17.0 241.1 1.0 258.3" stroke="#E9F5F3" stroke-width="1.9" stroke-opacity="0.98" fill="none" stroke-linecap="round"/>
<path d="M48.1 65.4 Q33.7 40.7 21.9 34.9" stroke="#BFE6E0" stroke-width="2.3" stroke-opacity="0.97" fill="none" stroke-linecap="round"/>
<path d="M46.5 11.3 Q39.3 3.6 32.1 11.9" stroke="#0a2c33" stroke-width="1.4" stroke-opacity="0.97" fill="none" stroke-linecap="round"/>
<path d="M33.2 56.9 Q27.4 45.2 24.3 41.0" stroke="#0a2c33" stroke-width="2.9" stroke-opacity="0.85" fill="none" stroke-linecap="round"/>
<path d="M24.0 209.9 Q28.4 228.7 1.0 227.6" stroke="#12222a" stroke-width="1.9" stroke-opacity="0.96" fill="none" stroke-linecap="round"/>
<path d="M46.4 210.8 Q55.0 205.8 76.6 208.1" stroke="#0a2c33" stroke-width="1.8" stroke-opacity="0.79" fill="none" stroke-linecap="round"/>
<path d="M43.7 88.4 Q15.4 56.6 22.2 53.0" stroke="#0a2c33" stroke-width="1.3" stroke-opacity="0.86" fill="none" stroke-linecap="round"/>
<path d="M30.4 5.2 Q47.7 19.5 45.1 2.4" stroke="#0a2c33" stroke-width="2.7" stroke-opacity="0.97" fill="none" stroke-linecap="round"/>
<path d="M59.2 8.6 Q64.0 16.9 56.0 41.5" stroke="#0a2c33" stroke-width="2.3" stroke-opacity="0.81" fill="none" stroke-linecap="round"/>
<path d="M31.5 108.4 Q19.4 135.2 21.2 151.4" stroke="#0a2c33" stroke-width="1.3" stroke-opacity="0.99" fill="none" stroke-linecap="round"/>
<path d="M62.0 225.4 Q72.0 219.7 51.0 218.4" stroke="#0a2c33" stroke-width="2.8" stroke-opacity="0.98" fill="none" stroke-linecap="round"/>
<path d="M35.9 68.5 Q27.1 48.7 33.7 32.1" stroke="#0a2c33" stroke-width="2.4" stroke-opacity="0.80" fill="none" stroke-linecap="round"/>
<path d="M46.0 115.2 Q33.6 98.7 23.4 95.9" stroke="#0a2c33" stroke-width="1.8" stroke-opacity="0.80" fill="none" stroke-linecap="round"/>
<path d="M33.5 242.4 Q32.1 253.1 55.1 231.3" stroke="#12222a" stroke-width="2.2" stroke-opacity="0.87" fill="none" stroke-linecap="round"/>
<path d="M13.6 246.9 Q2.8 221.1 16.5 226.4" stroke="#12222a" stroke-width="2.0" stroke-opacity="0.77" fill="none" stroke-linecap="round"/>
<path d="M21.5 110.0 Q25.7 138.1 49.7 133.1" stroke="#0a2c33" stroke-width="2.0" stroke-opacity="0.92" fill="none" stroke-linecap="round"/>
<path d="M2 96 Q20 84 34 104 Q44 120 30 134" stroke="#EAF6F4" stroke-width="6" fill="none" stroke-linecap="round" stroke-opacity="0.9"/><path d="M6 150 Q30 160 52 140" stroke="#EAF6F4" stroke-width="5" fill="none" stroke-linecap="round" stroke-opacity="0.85"/><path d="M30 30 Q44 18 56 34" stroke="#0c3f44" stroke-width="2" fill="none"/>
<path d="M10 186 V250" stroke="#1a1f22" stroke-width="3.2"/><path d="M0 168 Q10 160 11 188" stroke="#14181b" stroke-width="2.2" fill="none"/>
</g>
<g clip-path="url(#lgRed)"><rect x="200" y="0" width="90" height="252" fill="#CC3323"/>
<path d="M210.8 50.6 Q220.3 51.8 205.4 82.2" stroke="#7a1712" stroke-width="4.6" stroke-opacity="0.91" fill="none" stroke-linecap="round"/>
<path d="M258.9 175.9 Q265.6 185.2 278.8 190.9" stroke="#A3241A" stroke-width="6.0" stroke-opacity="0.99" fill="none" stroke-linecap="round"/>
<path d="M253.1 104.5 Q270.2 86.4 279.7 77.1" stroke="#7a1712" stroke-width="7.2" stroke-opacity="0.82" fill="none" stroke-linecap="round"/>
<path d="M231.6 88.2 Q224.9 62.3 207.7 71.9" stroke="#7a1712" stroke-width="5.3" stroke-opacity="0.83" fill="none" stroke-linecap="round"/>
<path d="M249.6 200.7 Q230.8 221.3 231.2 218.7" stroke="#B52C20" stroke-width="4.9" stroke-opacity="0.96" fill="none" stroke-linecap="round"/>
<path d="M279.1 239.7 Q286.2 225.9 263.6 247.4" stroke="#A3241A" stroke-width="4.5" stroke-opacity="0.97" fill="none" stroke-linecap="round"/>
<path d="M226.4 134.1 Q216.4 138.6 210.9 119.6" stroke="#7a1712" stroke-width="5.3" stroke-opacity="0.84" fill="none" stroke-linecap="round"/>
<path d="M255.3 87.8 Q246.4 53.6 235.6 48.3" stroke="#B52C20" stroke-width="6.0" stroke-opacity="0.91" fill="none" stroke-linecap="round"/>
<path d="M288.0 38.6 Q277.1 52.2 273.2 46.5" stroke="#B52C20" stroke-width="7.1" stroke-opacity="0.94" fill="none" stroke-linecap="round"/>
<path d="M206.0 90.7 Q209.6 84.3 226.7 101.2" stroke="#B52C20" stroke-width="7.1" stroke-opacity="0.96" fill="none" stroke-linecap="round"/>
<path d="M294.0 222.0 Q293.5 232.9 308.0 243.0" stroke="#8B1A14" stroke-width="5.5" stroke-opacity="0.77" fill="none" stroke-linecap="round"/>
<path d="M252.4 26.7 Q250.0 22.3 231.7 4.2" stroke="#A3241A" stroke-width="7.7" stroke-opacity="0.83" fill="none" stroke-linecap="round"/>
<path d="M264.7 1.0 Q273.5 -1.7 276.2 -16.6" stroke="#8B1A14" stroke-width="4.1" stroke-opacity="0.94" fill="none" stroke-linecap="round"/>
<path d="M252.6 217.8 Q218.7 205.0 210.5 214.0" stroke="#A3241A" stroke-width="3.9" stroke-opacity="0.88" fill="none" stroke-linecap="round"/>
<path d="M246.9 7.3 Q252.6 4.0 259.0 3.2" stroke="#7a1712" stroke-width="7.8" stroke-opacity="0.77" fill="none" stroke-linecap="round"/>
<path d="M198.2 192.6 Q190.6 170.2 193.6 171.5" stroke="#B52C20" stroke-width="6.8" stroke-opacity="0.96" fill="none" stroke-linecap="round"/>
<path d="M289.9 15.8 Q266.6 -0.3 277.9 3.9" stroke="#7a1712" stroke-width="6.5" stroke-opacity="0.99" fill="none" stroke-linecap="round"/>
<path d="M240.1 155.0 Q264.7 170.4 258.3 160.2" stroke="#B52C20" stroke-width="3.0" stroke-opacity="0.97" fill="none" stroke-linecap="round"/>
<path d="M241.6 104.6 Q266.1 82.8 256.1 92.1" stroke="#7a1712" stroke-width="7.0" stroke-opacity="0.90" fill="none" stroke-linecap="round"/>
<path d="M237.5 99.6 Q268.4 87.3 272.8 104.7" stroke="#8B1A14" stroke-width="5.2" stroke-opacity="0.80" fill="none" stroke-linecap="round"/>
<path d="M292.2 72.7 Q304.8 78.5 314.9 92.6" stroke="#7a1712" stroke-width="6.9" stroke-opacity="0.99" fill="none" stroke-linecap="round"/>
<path d="M238.4 228.2 Q225.8 232.4 215.6 247.7" stroke="#7a1712" stroke-width="3.2" stroke-opacity="0.92" fill="none" stroke-linecap="round"/>
<path d="M230.5 39.0 Q237.0 60.8 260.0 58.4" stroke="#8B1A14" stroke-width="6.3" stroke-opacity="0.87" fill="none" stroke-linecap="round"/>
<path d="M274.9 60.0 Q273.9 76.1 279.8 82.8" stroke="#8B1A14" stroke-width="4.8" stroke-opacity="0.87" fill="none" stroke-linecap="round"/>
<path d="M217.0 214.6 Q251.0 211.9 249.1 202.4" stroke="#7a1712" stroke-width="6.5" stroke-opacity="0.84" fill="none" stroke-linecap="round"/>
<path d="M221.1 152.1 Q213.7 146.2 233.4 139.4" stroke="#B52C20" stroke-width="7.4" stroke-opacity="0.94" fill="none" stroke-linecap="round"/>
<path d="M199.8 179.6 Q215.0 187.3 215.0 181.0" stroke="#8B1A14" stroke-width="4.9" stroke-opacity="0.92" fill="none" stroke-linecap="round"/>
<path d="M207.7 140.5 Q188.9 124.8 184.7 140.4" stroke="#B52C20" stroke-width="3.5" stroke-opacity="0.82" fill="none" stroke-linecap="round"/>
<path d="M277.0 99.7 Q282.1 94.9 289.8 80.8" stroke="#8B1A14" stroke-width="8.6" stroke-opacity="0.79" fill="none" stroke-linecap="round"/>
<path d="M232.9 199.8 Q229.7 196.7 260.7 178.8" stroke="#7a1712" stroke-width="4.5" stroke-opacity="0.96" fill="none" stroke-linecap="round"/>
<path d="M231.5 157.2 Q252.6 171.1 243.9 168.2" stroke="#A3241A" stroke-width="5.4" stroke-opacity="0.90" fill="none" stroke-linecap="round"/>
<path d="M239.2 189.2 Q240.5 186.1 238.1 173.7" stroke="#8B1A14" stroke-width="6.4" stroke-opacity="0.81" fill="none" stroke-linecap="round"/>
<path d="M245.8 130.2 Q238.1 126.9 225.0 92.2" stroke="#A3241A" stroke-width="8.0" stroke-opacity="0.94" fill="none" stroke-linecap="round"/>
<path d="M225.1 10.7 Q192.9 -11.2 193.2 -14.7" stroke="#A3241A" stroke-width="3.2" stroke-opacity="0.83" fill="none" stroke-linecap="round"/>
<path d="M273.2 86.4 Q263.3 115.0 235.9 107.7" stroke="#8B1A14" stroke-width="4.7" stroke-opacity="0.77" fill="none" stroke-linecap="round"/>
<path d="M289.7 106.0 Q290.5 97.6 274.1 65.4" stroke="#7a1712" stroke-width="6.1" stroke-opacity="0.92" fill="none" stroke-linecap="round"/>
<path d="M217.2 168.3 Q220.4 137.2 224.3 128.4" stroke="#B52C20" stroke-width="4.0" stroke-opacity="0.79" fill="none" stroke-linecap="round"/>
<path d="M273.5 59.0 Q271.0 51.3 292.4 54.6" stroke="#A3241A" stroke-width="4.2" stroke-opacity="0.83" fill="none" stroke-linecap="round"/>
<path d="M210.4 176.7 Q202.4 194.3 213.0 210.8" stroke="#7a1712" stroke-width="3.8" stroke-opacity="0.91" fill="none" stroke-linecap="round"/>
<path d="M265.4 33.3 Q241.0 28.7 235.2 14.8" stroke="#A3241A" stroke-width="6.3" stroke-opacity="0.94" fill="none" stroke-linecap="round"/>
<path d="M213.6 166.6 Q207.9 182.4 183.0 174.3" stroke="#DE5141" stroke-width="6.5" stroke-opacity="0.75" fill="none" stroke-linecap="round"/>
<path d="M244.7 10.8 Q223.7 23.9 230.7 50.7" stroke="#DE5141" stroke-width="3.8" stroke-opacity="0.86" fill="none" stroke-linecap="round"/>
<path d="M252.8 72.4 Q266.1 93.9 281.6 80.9" stroke="#E36352" stroke-width="3.4" stroke-opacity="0.93" fill="none" stroke-linecap="round"/>
<path d="M293.1 140.9 Q283.8 130.2 279.2 141.9" stroke="#D8432F" stroke-width="4.6" stroke-opacity="0.84" fill="none" stroke-linecap="round"/>
<path d="M205.9 71.5 Q211.1 61.1 202.0 39.6" stroke="#DE5141" stroke-width="3.7" stroke-opacity="0.76" fill="none" stroke-linecap="round"/>
<path d="M272.9 209.9 Q281.9 231.8 281.0 228.9" stroke="#D8432F" stroke-width="3.8" stroke-opacity="0.95" fill="none" stroke-linecap="round"/>
<path d="M278.4 185.6 Q294.4 189.1 287.1 205.5" stroke="#E36352" stroke-width="3.7" stroke-opacity="0.98" fill="none" stroke-linecap="round"/>
<path d="M279.1 63.4 Q294.7 82.3 288.5 70.9" stroke="#D8432F" stroke-width="5.0" stroke-opacity="0.76" fill="none" stroke-linecap="round"/>
<path d="M218.2 105.7 Q240.1 109.8 254.5 104.7" stroke="#DE5141" stroke-width="6.4" stroke-opacity="0.79" fill="none" stroke-linecap="round"/>
<path d="M240.4 242.5 Q244.7 233.0 253.2 245.7" stroke="#D8432F" stroke-width="4.9" stroke-opacity="0.76" fill="none" stroke-linecap="round"/>
<path d="M256.9 208.4 Q250.3 203.5 274.5 230.6" stroke="#D8432F" stroke-width="5.1" stroke-opacity="0.83" fill="none" stroke-linecap="round"/>
<path d="M240.0 166.5 Q244.3 147.9 272.7 144.0" stroke="#E36352" stroke-width="7.0" stroke-opacity="0.92" fill="none" stroke-linecap="round"/>
<path d="M252.6 117.2 Q235.4 116.9 223.2 114.1" stroke="#D8432F" stroke-width="7.3" stroke-opacity="0.99" fill="none" stroke-linecap="round"/>
<path d="M291.3 155.0 Q315.8 166.1 327.7 169.4" stroke="#E36352" stroke-width="5.8" stroke-opacity="0.86" fill="none" stroke-linecap="round"/>
<path d="M233.1 164.1 Q239.2 163.3 243.0 152.9" stroke="#DE5141" stroke-width="4.1" stroke-opacity="0.93" fill="none" stroke-linecap="round"/>
<path d="M264.8 36.7 Q266.2 26.5 235.7 26.3" stroke="#DE5141" stroke-width="5.8" stroke-opacity="0.85" fill="none" stroke-linecap="round"/>
<path d="M208.2 45.1 Q174.2 51.9 168.1 32.6" stroke="#E36352" stroke-width="6.2" stroke-opacity="0.80" fill="none" stroke-linecap="round"/>
<path d="M262.7 177.3 Q255.4 186.7 245.1 182.0" stroke="#D8432F" stroke-width="5.6" stroke-opacity="0.90" fill="none" stroke-linecap="round"/>
<path d="M204.9 102.0 Q212.1 106.2 193.1 106.7" stroke="#D8432F" stroke-width="7.2" stroke-opacity="0.99" fill="none" stroke-linecap="round"/>
<path d="M258.4 240.1 Q251.3 245.2 230.8 247.2" stroke="#DE5141" stroke-width="5.8" stroke-opacity="0.94" fill="none" stroke-linecap="round"/>
<path d="M210.4 194.0 Q206.3 182.6 211.4 206.1" stroke="#D8432F" stroke-width="7.8" stroke-opacity="0.86" fill="none" stroke-linecap="round"/>
<path d="M208.8 33.9 Q244.6 34.3 245.2 56.3" stroke="#DE5141" stroke-width="7.6" stroke-opacity="0.97" fill="none" stroke-linecap="round"/>
<path d="M213.5 186.4 Q220.9 187.0 215.4 164.1" stroke="#DE5141" stroke-width="4.2" stroke-opacity="0.88" fill="none" stroke-linecap="round"/>
<path d="M248.4 89.2 Q248.7 71.4 259.6 64.0" stroke="#E36352" stroke-width="7.0" stroke-opacity="0.78" fill="none" stroke-linecap="round"/>
<path d="M287.7 168.8 Q289.1 190.0 294.4 186.8" stroke="#D8432F" stroke-width="5.2" stroke-opacity="0.95" fill="none" stroke-linecap="round"/>
<path d="M244.8 18.4 Q266.0 39.7 256.2 34.1" stroke="#D8432F" stroke-width="4.9" stroke-opacity="0.79" fill="none" stroke-linecap="round"/>
<path d="M282.8 134.6 Q305.2 100.8 295.2 102.1" stroke="#E36352" stroke-width="8.0" stroke-opacity="0.87" fill="none" stroke-linecap="round"/>
<path d="M244.4 7.9 Q266.7 22.2 280.2 26.0" stroke="#D8432F" stroke-width="5.0" stroke-opacity="0.87" fill="none" stroke-linecap="round"/>
<path d="M212.5 211.3 Q224.9 187.4 229.4 194.0" stroke="#E36352" stroke-width="5.6" stroke-opacity="0.83" fill="none" stroke-linecap="round"/>
<path d="M209.8 156.2 Q221.7 142.1 217.2 140.2" stroke="#E36352" stroke-width="4.9" stroke-opacity="0.84" fill="none" stroke-linecap="round"/>
<path d="M197.6 144.8 Q207.0 163.7 219.4 147.6" stroke="#DE5141" stroke-width="6.2" stroke-opacity="0.93" fill="none" stroke-linecap="round"/>
<path d="M211.1 96.1 Q212.1 98.4 223.3 95.4" stroke="#D8432F" stroke-width="7.8" stroke-opacity="1.00" fill="none" stroke-linecap="round"/>
<path d="M200.3 140.2 Q223.3 131.4 226.6 113.0" stroke="#D8432F" stroke-width="3.5" stroke-opacity="0.95" fill="none" stroke-linecap="round"/>
<path d="M274.7 59.5 Q271.5 91.2 299.2 89.5" stroke="#E36352" stroke-width="6.7" stroke-opacity="0.88" fill="none" stroke-linecap="round"/>
<path d="M259.3 87.6 Q231.0 90.1 234.5 104.2" stroke="#F0CFC8" stroke-width="4.0" stroke-opacity="0.95" fill="none" stroke-linecap="round"/>
<path d="M246.4 223.6 Q253.4 212.5 285.5 222.7" stroke="#E8B2A8" stroke-width="2.5" stroke-opacity="0.85" fill="none" stroke-linecap="round"/>
<path d="M272.7 232.4 Q290.2 235.7 291.9 256.8" stroke="#F0CFC8" stroke-width="1.4" stroke-opacity="0.80" fill="none" stroke-linecap="round"/>
<path d="M287.6 146.2 Q280.1 171.5 274.9 162.9" stroke="#E8B2A8" stroke-width="3.5" stroke-opacity="0.98" fill="none" stroke-linecap="round"/>
<path d="M279.2 79.8 Q287.4 84.2 292.2 70.0" stroke="#F0CFC8" stroke-width="2.0" stroke-opacity="0.76" fill="none" stroke-linecap="round"/>
<path d="M201.7 112.0 Q197.5 118.2 193.1 153.2" stroke="#ffffff" stroke-width="3.5" stroke-opacity="0.99" fill="none" stroke-linecap="round"/>
<path d="M255.9 19.8 Q264.1 -7.0 283.7 -7.8" stroke="#ffffff" stroke-width="2.1" stroke-opacity="0.91" fill="none" stroke-linecap="round"/>
<path d="M198.5 80.7 Q209.3 68.6 193.7 90.6" stroke="#E8B2A8" stroke-width="2.5" stroke-opacity="0.92" fill="none" stroke-linecap="round"/>
<path d="M230.1 14.4 Q246.6 11.9 254.0 21.4" stroke="#E8B2A8" stroke-width="4.4" stroke-opacity="0.85" fill="none" stroke-linecap="round"/>
<path d="M289.1 218.3 Q292.5 216.6 284.7 228.3" stroke="#E8B2A8" stroke-width="3.2" stroke-opacity="0.93" fill="none" stroke-linecap="round"/>
<path d="M229.3 23.4 Q243.8 14.7 239.0 35.6" stroke="#F0CFC8" stroke-width="2.6" stroke-opacity="0.88" fill="none" stroke-linecap="round"/>
<path d="M254.7 138.7 Q235.1 137.4 227.6 118.7" stroke="#F0CFC8" stroke-width="3.8" stroke-opacity="0.87" fill="none" stroke-linecap="round"/>
<path d="M200.1 161.8 Q191.6 158.8 168.2 151.6" stroke="#F0CFC8" stroke-width="2.9" stroke-opacity="0.99" fill="none" stroke-linecap="round"/>
<path d="M209.9 2.3 Q212.2 -13.9 194.7 -20.2" stroke="#ffffff" stroke-width="2.5" stroke-opacity="0.99" fill="none" stroke-linecap="round"/>
<path d="M288.8 156.2 Q271.3 164.2 275.0 152.3" stroke="#F0CFC8" stroke-width="4.2" stroke-opacity="0.84" fill="none" stroke-linecap="round"/>
<path d="M211.6 44.4 Q215.6 18.7 243.8 27.0" stroke="#ffffff" stroke-width="2.6" stroke-opacity="0.96" fill="none" stroke-linecap="round"/>
<path d="M217.9 228.1 Q191.3 252.1 185.4 255.3" stroke="#F4E7E3" stroke-width="1.5" stroke-opacity="0.93" fill="none" stroke-linecap="round"/>
<path d="M203.4 161.4 Q195.6 154.5 219.5 142.9" stroke="#E8B2A8" stroke-width="4.1" stroke-opacity="0.84" fill="none" stroke-linecap="round"/>
<path d="M261.4 215.1 Q274.4 206.5 272.4 216.5" stroke="#F0CFC8" stroke-width="1.9" stroke-opacity="0.94" fill="none" stroke-linecap="round"/>
<path d="M260.0 74.6 Q267.3 84.7 269.5 119.4" stroke="#F0CFC8" stroke-width="4.3" stroke-opacity="0.78" fill="none" stroke-linecap="round"/>
<path d="M226.4 22.1 Q220.9 12.0 233.4 14.8" stroke="#E8B2A8" stroke-width="1.9" stroke-opacity="0.76" fill="none" stroke-linecap="round"/>
<path d="M273.7 212.8 Q301.0 215.9 308.6 223.3" stroke="#E8B2A8" stroke-width="4.0" stroke-opacity="1.00" fill="none" stroke-linecap="round"/>
<path d="M226.2 6.1 Q215.4 19.8 240.0 3.9" stroke="#ffffff" stroke-width="2.8" stroke-opacity="0.84" fill="none" stroke-linecap="round"/>
<path d="M270.6 116.1 Q265.3 128.3 249.8 128.6" stroke="#E8B2A8" stroke-width="4.0" stroke-opacity="0.99" fill="none" stroke-linecap="round"/>
<path d="M200.2 58.7 Q176.4 40.9 185.9 22.9" stroke="#ffffff" stroke-width="3.0" stroke-opacity="0.92" fill="none" stroke-linecap="round"/>
<path d="M268.4 12.1 Q273.7 36.9 307.2 28.7" stroke="#ffffff" stroke-width="2.9" stroke-opacity="0.75" fill="none" stroke-linecap="round"/>
<path d="M218.9 135.1 Q221.0 131.6 187.5 125.9" stroke="#E8B2A8" stroke-width="4.3" stroke-opacity="0.77" fill="none" stroke-linecap="round"/>
<path d="M292.1 213.3 Q280.4 242.8 299.4 257.7" stroke="#F4E7E3" stroke-width="2.0" stroke-opacity="0.77" fill="none" stroke-linecap="round"/>
<path d="M201.2 127.2 Q184.7 105.3 178.1 118.6" stroke="#F4E7E3" stroke-width="3.3" stroke-opacity="0.89" fill="none" stroke-linecap="round"/>
<path d="M250.8 172.6 Q274.6 152.8 282.7 140.3" stroke="#F0CFC8" stroke-width="2.9" stroke-opacity="0.85" fill="none" stroke-linecap="round"/>
<path d="M211.8 190.2 Q233.1 175.4 225.7 150.9" stroke="#ffffff" stroke-width="3.1" stroke-opacity="0.98" fill="none" stroke-linecap="round"/>
<path d="M222.0 152.7 Q211.8 150.7 223.3 176.3" stroke="#F4E7E3" stroke-width="4.1" stroke-opacity="0.76" fill="none" stroke-linecap="round"/>
<path d="M265.0 81.1 Q242.5 93.0 233.3 71.0" stroke="#F4E7E3" stroke-width="2.7" stroke-opacity="0.91" fill="none" stroke-linecap="round"/>
<path d="M243.1 85.6 Q244.0 106.2 221.5 105.9" stroke="#E8B2A8" stroke-width="2.3" stroke-opacity="0.77" fill="none" stroke-linecap="round"/>
<path d="M292.6 66.6 Q285.0 62.3 308.2 36.7" stroke="#ffffff" stroke-width="4.2" stroke-opacity="0.94" fill="none" stroke-linecap="round"/>
<path d="M222.7 210.3 Q214.1 229.5 199.1 243.7" stroke="#ffffff" stroke-width="1.4" stroke-opacity="0.94" fill="none" stroke-linecap="round"/>
<path d="M232.7 51.2 Q233.6 44.7 222.0 63.2" stroke="#E8B2A8" stroke-width="1.8" stroke-opacity="0.99" fill="none" stroke-linecap="round"/>
<path d="M280.9 163.0 Q266.5 195.4 262.2 201.5" stroke="#E8B2A8" stroke-width="1.6" stroke-opacity="0.79" fill="none" stroke-linecap="round"/>
<path d="M221.6 25.7 Q226.2 13.2 229.1 4.1" stroke="#F4E7E3" stroke-width="2.1" stroke-opacity="0.82" fill="none" stroke-linecap="round"/>
<path d="M240.7 27.9 Q227.0 12.3 236.8 -4.7" stroke="#F4E7E3" stroke-width="3.4" stroke-opacity="0.84" fill="none" stroke-linecap="round"/>
<path d="M248.0 59.4 Q237.5 51.9 235.5 79.1" stroke="#ffffff" stroke-width="1.2" stroke-opacity="0.81" fill="none" stroke-linecap="round"/>
<path d="M254.9 76.6 Q258.9 60.8 280.5 61.9" stroke="#E8B2A8" stroke-width="1.5" stroke-opacity="0.91" fill="none" stroke-linecap="round"/>
<path d="M281.2 50.4 Q288.7 33.6 287.8 26.1" stroke="#F4E7E3" stroke-width="3.5" stroke-opacity="0.84" fill="none" stroke-linecap="round"/>
<path d="M201.1 188.3 Q184.6 189.0 160.3 207.1" stroke="#ffffff" stroke-width="2.4" stroke-opacity="0.89" fill="none" stroke-linecap="round"/>
<path d="M287.6 47.9 Q277.7 32.0 277.0 4.2" stroke="#F0CFC8" stroke-width="4.0" stroke-opacity="0.77" fill="none" stroke-linecap="round"/>
<path d="M240.7 98.3 Q257.3 103.9 263.6 88.5" stroke="#F4E7E3" stroke-width="3.1" stroke-opacity="0.87" fill="none" stroke-linecap="round"/>
<path d="M242.3 209.9 Q244.0 209.8 217.7 214.0" stroke="#E8B2A8" stroke-width="1.6" stroke-opacity="0.94" fill="none" stroke-linecap="round"/>
<path d="M197.9 58.1 Q204.9 48.5 181.3 53.7" stroke="#F0CFC8" stroke-width="3.7" stroke-opacity="0.94" fill="none" stroke-linecap="round"/>
<path d="M208.6 55.2 Q196.9 34.5 213.8 43.5" stroke="#ffffff" stroke-width="3.0" stroke-opacity="0.76" fill="none" stroke-linecap="round"/>
<path d="M263.7 177.8 Q283.5 179.4 289.5 187.0" stroke="#ffffff" stroke-width="4.4" stroke-opacity="0.95" fill="none" stroke-linecap="round"/>
<path d="M282.4 36.4 Q253.7 52.7 260.6 33.9" stroke="#F0CFC8" stroke-width="2.9" stroke-opacity="0.77" fill="none" stroke-linecap="round"/>
<path d="M234.6 166.0 Q240.3 178.9 218.2 178.7" stroke="#F0CFC8" stroke-width="2.2" stroke-opacity="0.97" fill="none" stroke-linecap="round"/>
<path d="M275.6 214.2 Q262.3 224.7 281.3 232.5" stroke="#F0CFC8" stroke-width="4.2" stroke-opacity="0.91" fill="none" stroke-linecap="round"/>
<path d="M266.6 35.3 Q253.1 61.0 242.9 71.8" stroke="#F4E7E3" stroke-width="3.5" stroke-opacity="0.75" fill="none" stroke-linecap="round"/>
<path d="M203.6 237.9 Q212.9 240.0 242.3 246.6" stroke="#ffffff" stroke-width="3.5" stroke-opacity="0.95" fill="none" stroke-linecap="round"/>
<path d="M255.0 113.7 Q248.1 105.1 214.0 128.5" stroke="#E8B2A8" stroke-width="3.9" stroke-opacity="0.78" fill="none" stroke-linecap="round"/>
<path d="M210.4 220.0 Q173.3 228.3 171.1 220.7" stroke="#ffffff" stroke-width="2.8" stroke-opacity="0.92" fill="none" stroke-linecap="round"/>
<path d="M263.1 73.7 Q255.0 81.3 272.4 58.8" stroke="#ffffff" stroke-width="2.9" stroke-opacity="0.87" fill="none" stroke-linecap="round"/>
<path d="M216.8 22.9 Q229.7 36.1 218.7 34.5" stroke="#E8B2A8" stroke-width="3.4" stroke-opacity="0.79" fill="none" stroke-linecap="round"/>
<path d="M202.6 173.9 Q198.1 159.4 208.5 164.1" stroke="#F0CFC8" stroke-width="3.5" stroke-opacity="0.93" fill="none" stroke-linecap="round"/>
<path d="M227.3 64.5 Q246.7 85.0 233.9 93.5" stroke="#ffffff" stroke-width="2.5" stroke-opacity="0.76" fill="none" stroke-linecap="round"/>
<path d="M234.2 160.2 Q211.0 156.4 216.9 155.1" stroke="#ffffff" stroke-width="2.6" stroke-opacity="0.92" fill="none" stroke-linecap="round"/>
<path d="M208.2 207.1 Q232.4 219.6 221.0 200.5" stroke="#F4E7E3" stroke-width="2.1" stroke-opacity="0.84" fill="none" stroke-linecap="round"/>
<path d="M270.5 124.1 Q288.1 149.2 306.8 148.1" stroke="#F4E7E3" stroke-width="1.8" stroke-opacity="0.87" fill="none" stroke-linecap="round"/>
<path d="M272.2 196.0 Q246.3 188.7 234.8 175.8" stroke="#1a0e0e" stroke-width="2.5" stroke-opacity="0.84" fill="none" stroke-linecap="round"/>
<path d="M289.6 171.0 Q284.8 167.0 283.7 181.2" stroke="#120a0a" stroke-width="1.5" stroke-opacity="0.78" fill="none" stroke-linecap="round"/>
<path d="M278.5 206.1 Q270.1 197.2 243.9 216.1" stroke="#1a0e0e" stroke-width="1.9" stroke-opacity="0.87" fill="none" stroke-linecap="round"/>
<path d="M200.3 138.1 Q183.0 135.5 192.2 127.3" stroke="#2a1212" stroke-width="1.0" stroke-opacity="0.93" fill="none" stroke-linecap="round"/>
<path d="M269.0 102.7 Q265.4 117.0 297.5 120.8" stroke="#2a1212" stroke-width="1.4" stroke-opacity="0.82" fill="none" stroke-linecap="round"/>
<path d="M207.4 74.9 Q207.9 76.3 205.5 90.3" stroke="#1a0e0e" stroke-width="1.2" stroke-opacity="0.88" fill="none" stroke-linecap="round"/>
<path d="M246.7 104.4 Q228.9 95.8 232.6 114.1" stroke="#1a0e0e" stroke-width="2.1" stroke-opacity="0.88" fill="none" stroke-linecap="round"/>
<path d="M220.5 41.8 Q237.5 51.4 233.5 46.4" stroke="#1a0e0e" stroke-width="2.1" stroke-opacity="0.81" fill="none" stroke-linecap="round"/>
<path d="M270.5 55.3 Q276.2 57.9 289.6 59.1" stroke="#2a1212" stroke-width="1.9" stroke-opacity="0.78" fill="none" stroke-linecap="round"/>
<path d="M262.1 70.1 Q264.0 72.3 265.0 51.5" stroke="#1a0e0e" stroke-width="1.0" stroke-opacity="0.83" fill="none" stroke-linecap="round"/>
<path d="M206.6 69.4 Q208.2 71.3 223.8 103.1" stroke="#2a1212" stroke-width="1.9" stroke-opacity="0.80" fill="none" stroke-linecap="round"/>
<path d="M228.1 234.2 Q257.3 225.4 265.6 241.9" stroke="#120a0a" stroke-width="2.1" stroke-opacity="0.79" fill="none" stroke-linecap="round"/>
<path d="M230.7 52.3 Q226.3 77.8 234.0 69.1" stroke="#1a0e0e" stroke-width="2.2" stroke-opacity="0.87" fill="none" stroke-linecap="round"/>
<path d="M245.7 199.2 Q250.8 167.1 246.1 156.5" stroke="#120a0a" stroke-width="1.0" stroke-opacity="0.84" fill="none" stroke-linecap="round"/>
<path d="M237.3 169.7 Q228.7 158.3 198.3 147.4" stroke="#120a0a" stroke-width="1.7" stroke-opacity="0.81" fill="none" stroke-linecap="round"/>
<path d="M265.0 89.7 Q269.6 97.4 253.3 92.2" stroke="#1a0e0e" stroke-width="1.6" stroke-opacity="0.96" fill="none" stroke-linecap="round"/>
<path d="M273.9 220.3 Q285.1 233.8 294.0 215.2" stroke="#1a0e0e" stroke-width="1.0" stroke-opacity="0.95" fill="none" stroke-linecap="round"/>
<path d="M275.6 192.7 Q280.0 215.1 278.1 233.1" stroke="#2a1212" stroke-width="1.9" stroke-opacity="0.98" fill="none" stroke-linecap="round"/>
<path d="M284.2 31.5 Q275.4 51.8 257.4 52.3" stroke="#2a1212" stroke-width="2.3" stroke-opacity="0.85" fill="none" stroke-linecap="round"/>
<path d="M205.5 170.1 Q198.2 199.1 184.1 204.0" stroke="#2a1212" stroke-width="0.9" stroke-opacity="0.87" fill="none" stroke-linecap="round"/>
<path d="M198.6 45.4 Q185.3 53.5 164.4 64.6" stroke="#2a1212" stroke-width="1.8" stroke-opacity="0.77" fill="none" stroke-linecap="round"/>
<path d="M235.6 127.2 Q250.5 120.7 229.9 136.8" stroke="#2a1212" stroke-width="1.6" stroke-opacity="0.88" fill="none" stroke-linecap="round"/>
<path d="M220.7 69.8 Q223.4 77.3 197.6 92.7" stroke="#2a1212" stroke-width="2.5" stroke-opacity="0.84" fill="none" stroke-linecap="round"/>
<path d="M219.0 224.7 Q227.7 214.8 244.1 204.9" stroke="#120a0a" stroke-width="2.2" stroke-opacity="0.90" fill="none" stroke-linecap="round"/>
<path d="M281.0 242.7 Q305.7 229.1 305.0 244.1" stroke="#1a0e0e" stroke-width="1.7" stroke-opacity="0.95" fill="none" stroke-linecap="round"/>
<path d="M221.6 101.0 Q228.2 99.3 208.7 96.6" stroke="#2a1212" stroke-width="1.1" stroke-opacity="0.94" fill="none" stroke-linecap="round"/>
<path d="M221.8 115.7 Q206.5 120.8 207.9 140.6" stroke="#2a1212" stroke-width="2.0" stroke-opacity="0.91" fill="none" stroke-linecap="round"/>
<path d="M233.8 140.1 Q248.1 125.7 262.5 121.2" stroke="#1a0e0e" stroke-width="1.0" stroke-opacity="0.96" fill="none" stroke-linecap="round"/>
<path d="M264.0 148.2 Q278.2 143.4 264.2 122.1" stroke="#120a0a" stroke-width="1.7" stroke-opacity="0.99" fill="none" stroke-linecap="round"/>
<path d="M244.3 21.6 Q230.1 58.3 238.4 64.9" stroke="#120a0a" stroke-width="1.0" stroke-opacity="0.85" fill="none" stroke-linecap="round"/>
<path d="M270.2 167.5 Q263.5 159.1 271.8 147.5" stroke="#2a1212" stroke-width="1.8" stroke-opacity="0.85" fill="none" stroke-linecap="round"/>
<path d="M205.3 238.5 Q205.9 234.2 172.3 240.0" stroke="#2a1212" stroke-width="1.5" stroke-opacity="0.96" fill="none" stroke-linecap="round"/>
<path d="M245.6 31.1 Q246.3 33.2 268.5 13.1" stroke="#1a0e0e" stroke-width="1.2" stroke-opacity="0.93" fill="none" stroke-linecap="round"/>
<path d="M213.7 91.8 Q207.8 114.3 210.2 103.1" stroke="#120a0a" stroke-width="1.2" stroke-opacity="0.83" fill="none" stroke-linecap="round"/>
<path d="M289.5 65.4 Q265.4 60.8 269.5 73.5" stroke="#2a1212" stroke-width="1.4" stroke-opacity="0.95" fill="none" stroke-linecap="round"/>
<path d="M243.3 45.9 Q227.8 27.5 212.2 15.7" stroke="#1a0e0e" stroke-width="2.2" stroke-opacity="0.83" fill="none" stroke-linecap="round"/>
<path d="M237 12 Q262 4 263 40 Q262 72 240 66" stroke="#231a2a" stroke-width="3.4" fill="none"/>
<path d="M236 16 Q256 10 257 40 Q256 64 238 60" stroke="#f0e6e6" stroke-width="1.4" fill="none"/>
</g>
<path d="M0 249.3 L120 250.2 L287 251 V289.5 H0 Z" fill="#2C2D30"/>
<circle cx="43.6" cy="280.0" r="1.0" fill="#1c1d20"/>
<circle cx="216.0" cy="262.2" r="0.9" fill="#1c1d20"/>
<circle cx="151.9" cy="262.7" r="1.2" fill="#45464a"/>
<circle cx="129.1" cy="252.4" r="1.1" fill="#45464a"/>
<circle cx="101.5" cy="286.8" r="0.8" fill="#222326"/>
<circle cx="254.3" cy="284.4" r="0.6" fill="#1c1d20"/>
<circle cx="239.5" cy="278.3" r="1.5" fill="#222326"/>
<circle cx="185.0" cy="287.8" r="1.2" fill="#3b3c40"/>
<circle cx="222.3" cy="266.6" r="1.5" fill="#45464a"/>
<circle cx="114.8" cy="270.5" r="0.9" fill="#222326"/>
<circle cx="204.4" cy="257.3" r="1.3" fill="#1c1d20"/>
<circle cx="192.1" cy="285.4" r="0.6" fill="#45464a"/>
<circle cx="195.7" cy="286.2" r="0.6" fill="#3b3c40"/>
<circle cx="244.5" cy="276.7" r="1.1" fill="#1c1d20"/>
<circle cx="61.4" cy="279.0" r="1.4" fill="#222326"/>
<circle cx="43.4" cy="276.8" r="1.3" fill="#3b3c40"/>
<circle cx="257.8" cy="285.3" r="1.3" fill="#1c1d20"/>
<circle cx="252.2" cy="256.9" r="1.3" fill="#1c1d20"/>
<circle cx="175.7" cy="262.2" r="0.6" fill="#45464a"/>
<circle cx="174.4" cy="285.4" r="0.8" fill="#45464a"/>
<circle cx="194.0" cy="288.1" r="1.4" fill="#45464a"/>
<circle cx="6.7" cy="271.1" r="0.6" fill="#45464a"/>
<circle cx="62.7" cy="268.9" r="1.3" fill="#1c1d20"/>
<circle cx="78.9" cy="254.2" r="1.0" fill="#3b3c40"/>
<circle cx="11.4" cy="282.6" r="0.6" fill="#222326"/>
<circle cx="84.4" cy="286.6" r="1.6" fill="#222326"/>
<circle cx="62.5" cy="281.4" r="0.7" fill="#3b3c40"/>
<circle cx="64.0" cy="258.4" r="1.4" fill="#45464a"/>
<circle cx="121.7" cy="254.3" r="1.2" fill="#3b3c40"/>
<circle cx="167.9" cy="266.8" r="1.1" fill="#1c1d20"/>
<circle cx="64.9" cy="284.1" r="1.6" fill="#45464a"/>
<circle cx="275.9" cy="264.2" r="1.6" fill="#3b3c40"/>
<circle cx="184.2" cy="273.3" r="1.0" fill="#1c1d20"/>
<circle cx="54.7" cy="274.8" r="0.6" fill="#222326"/>
<circle cx="81.1" cy="259.2" r="1.3" fill="#3b3c40"/>
<circle cx="125.9" cy="259.3" r="1.3" fill="#222326"/>
<circle cx="221.9" cy="259.4" r="1.3" fill="#45464a"/>
<circle cx="214.6" cy="287.1" r="1.5" fill="#3b3c40"/>
<circle cx="18.0" cy="259.6" r="0.5" fill="#45464a"/>
<circle cx="160.1" cy="275.2" r="1.1" fill="#45464a"/>
<circle cx="284.6" cy="263.3" r="0.5" fill="#222326"/>
<circle cx="198.4" cy="267.6" r="0.5" fill="#1c1d20"/>
<circle cx="221.8" cy="264.7" r="1.4" fill="#45464a"/>
<circle cx="223.1" cy="269.4" r="1.6" fill="#45464a"/>
<circle cx="228.1" cy="269.6" r="1.4" fill="#222326"/>
<circle cx="243.9" cy="271.5" r="0.8" fill="#1c1d20"/>
<circle cx="60.1" cy="261.3" r="0.5" fill="#222326"/>
<circle cx="203.8" cy="287.0" r="1.6" fill="#1c1d20"/>
<circle cx="222.3" cy="278.9" r="0.7" fill="#1c1d20"/>
<circle cx="38.4" cy="252.5" r="0.7" fill="#1c1d20"/>
<circle cx="7.9" cy="282.1" r="1.6" fill="#3b3c40"/>
<circle cx="133.1" cy="253.6" r="1.5" fill="#3b3c40"/>
<circle cx="246.4" cy="264.5" r="1.1" fill="#1c1d20"/>
<circle cx="139.1" cy="275.7" r="0.7" fill="#222326"/>
<circle cx="58.7" cy="265.1" r="1.5" fill="#3b3c40"/>
<circle cx="169.7" cy="256.7" r="0.7" fill="#1c1d20"/>
<circle cx="164.2" cy="286.1" r="1.3" fill="#1c1d20"/>
<circle cx="218.6" cy="273.1" r="1.3" fill="#1c1d20"/>
<circle cx="48.5" cy="276.1" r="1.4" fill="#222326"/>
<circle cx="205.7" cy="269.4" r="1.5" fill="#222326"/>
<g transform="rotate(-5.9 82 50)" fill="#1b1b1d" stroke="#1b1b1d" font-weight="bold" style="font-family:'Liberation Sans',sans-serif">
<text x="81.5" y="50.3" font-size="40" stroke-width="2.5" textLength="69.5" lengthAdjust="spacingAndGlyphs">XVII</text>
<text x="84.0" y="68.7" font-size="20" stroke-width="1.25" textLength="101.5" lengthAdjust="spacingAndGlyphs">CONGRESSO</text>
<text x="86.2" y="86.6" font-size="19.4" stroke-width="1.2" textLength="92.8" lengthAdjust="spacingAndGlyphs">NAZIONALE</text>
<text x="89.6" y="108.9" font-size="25.4" stroke-width="1.5" textLength="59.5" lengthAdjust="spacingAndGlyphs">AIOM</text>
</g>
<g fill="#C5261C" stroke="#C5261C" stroke-width="0.55" font-weight="normal" font-style="italic" style="font-family:'Liberation Sans',sans-serif" transform="rotate(-4 66 150)">
<text x="66.5" y="152.4" font-size="17.5" textLength="44.5" lengthAdjust="spacingAndGlyphs">ROMA</text>
<text x="65.2" y="168.6" font-size="13.5" textLength="64" lengthAdjust="spacingAndGlyphs">23 – 25</text>
<text x="66.0" y="185.6" font-size="16" textLength="62" lengthAdjust="spacingAndGlyphs">OTTOBRE</text>
<text x="64.2" y="199.4" font-size="13.5" textLength="47.5" lengthAdjust="spacingAndGlyphs">2015</text>
</g>
<g fill="#2A9D90" stroke="#2A9D90" stroke-width="0.45" font-weight="normal" font-style="italic" style="font-family:'Liberation Sans',sans-serif" transform="rotate(-2 63 220)">
<text x="63" y="220.6" font-size="11" textLength="76.5" lengthAdjust="spacingAndGlyphs">MARRIOTT PARK</text>
<text x="63" y="232.2" font-size="11" textLength="27.5" lengthAdjust="spacingAndGlyphs">HOTEL</text>
</g>
<ellipse cx="205" cy="112" rx="16" ry="14" fill="#ffffff" fill-opacity="0.8"/>
<path d="M141.2 181.5 L139.0 196.0 L140.5 210.5 L139.0 225.0 L137.6 239.5 L136.1 254.0 L134.7 262.8 L131.8 270.0 L136.1 274.4 L147.7 272.9 L153.5 267.1 L156.4 254.0 L160.8 232.3 L168.0 210.5 L173.8 196.0 L175.3 188.0 Z" fill="url(#lgLeg)" />
<path d="M172.0 188.0 L175.3 203.3 L179.6 217.8 L182.5 232.3 L184.0 246.8 L181.1 258.4 L179.6 264.2 L186.9 268.6 L199.9 265.7 L205.7 260.6 L202.8 257.7 L195.6 254.0 L194.8 239.5 L194.8 217.8 L195.6 196.0 L195.6 186.0 Z" fill="url(#lgLeg)" />
<path d="M150 200 L146 240 M158 205 L150 250 M186 205 L189 245 M181 200 L186 230" stroke="#7c7e83" stroke-width="1.6" stroke-opacity="0.75" fill="none"/>
<path d="M133 268 L150 266 M184 262 L203 258" stroke="#8a8c90" stroke-width="1.4" stroke-opacity="0.8"/>
<path d="M146.3 117.7 L170.2 112.6 L188.3 114.1 L197.0 116.3 L202.8 123.5 L211.5 135.1 L220.2 127.9 L226.0 130.8 L224.6 140.9 L220.2 149.6 L211.5 152.5 L198.5 151.1 L197.0 167.0 L195.6 188.1 L172.4 190.2 L149.2 185.9 L141.2 181.5 L136.8 172.8 L133.2 161.2 L131.8 148.2 L132.5 140.2 L139.0 127.9 Z" fill="url(#lgShirt)" />
<path d="M150 122 L158 150 L150 180 M160 118 L170 150 L166 186 M176 120 L182 150 L180 186" stroke="#18181a" stroke-width="2.2" stroke-opacity="0.55" fill="none"/>
<path d="M186 122 L192 150 L190 184 M200 126 L208 146" stroke="#e6e6e8" stroke-width="2.4" stroke-opacity="0.7" fill="none"/>
<path d="M147 181 Q170 192 196 184" stroke="#1a1a1c" stroke-width="2.6" fill="none"/>
<ellipse cx="186" cy="103.2" rx="16.4" ry="12.2" fill="#1d1d1f"/>
<ellipse cx="193" cy="109" rx="7" ry="6" fill="#3a3a3d"/>
<path d="M176 96 Q186 90 198 97" stroke="#55565a" stroke-width="1.6" fill="none"/>
<rect x="210" y="115.4" width="22" height="5.4" rx="1.6" fill="#2a2a2d"/><rect x="210.6" y="116" width="21" height="1.6" fill="#77787c"/>
<path d="M232 119 L236 121 L224 132" stroke="#3a3a3d" stroke-width="1.3" fill="none"/>
<path d="M245 232 L247 259 Q261 266 276 259 L277.5 232 Z" fill="#1c1c1f"/>
<ellipse cx="261.2" cy="232" rx="16.3" ry="4.6" fill="#2b2c30" stroke="#6c6d72" stroke-width="1.1"/>
<path d="M250 240 L251 258 M270 241 L269.5 259" stroke="#55565b" stroke-width="1.6" stroke-opacity="0.8"/>
<ellipse cx="261" cy="261" rx="15" ry="3.5" fill="#55565b" fill-opacity="0.6"/>
<circle cx="50.2" cy="265.2" r="6.6" fill="none" stroke="#1F9E4A" stroke-width="3"/>
<text x="23" y="269.6" font-size="17" fill="#F4F4F4" style="font-family:'Liberation Serif',serif" textLength="43.5" lengthAdjust="spacingAndGlyphs">Aiom</text>
<path d="M17 271.2 L41 269.4 L40 272.4 L17 273.8 Z" fill="#1F9E4A"/><path d="M25 270.6 L34 270 L33.5 272.8 L24.5 273.3 Z" fill="#f4f4f4"/><path d="M33.8 270 L42 269.3 L41 272.2 L33.4 272.8 Z" fill="#D2322A"/>
<text x="21" y="279.3" font-size="4.1" font-weight="bold" fill="#E8E8E8" textLength="82.3" lengthAdjust="spacingAndGlyphs">Associazione Italiana di Oncologia Medica</text>
<text x="208.6" y="279.6" font-size="7.6" font-weight="bold" fill="#EDEDED" style="font-family:'Liberation Serif',serif" textLength="61" lengthAdjust="spacingAndGlyphs">Primo Annuncio</text>
</g></svg>
<svg style="left:2740px;top:10px" width="320" height="240" viewBox="2740 10 320 240">
<defs><path id="sealTop" d="M-80.92 3.53 A81.0 81.0 0 1 1 80.92 3.53"/><path id="sealBot" d="M-91.25 39.68 A99.5 99.5 0 0 0 91.25 39.68"/></defs>
<g transform="translate(2894.7 131.0) scale(1.39 1)" fill="#22227E" stroke="none" font-family="'Liberation Serif', serif">
<text font-size="29.5" stroke="#22227E" stroke-width="0.8" style="font-family:'Liberation Serif',serif" textLength="261.5" lengthAdjust="spacingAndGlyphs"><textPath href="#sealTop" textLength="261.5" lengthAdjust="spacingAndGlyphs">UNIVERSITÀ CATTOLICA</textPath></text>
<text font-size="29.5" stroke="#22227E" stroke-width="0.8" style="font-family:'Liberation Serif',serif" textLength="231.0" lengthAdjust="spacingAndGlyphs"><textPath href="#sealBot" textLength="231.0" lengthAdjust="spacingAndGlyphs">DEL SACRO CUORE</textPath></text>
<ellipse cx="-91.6" cy="18.8" rx="1.6" ry="2.2"/>
<ellipse cx="91.6" cy="18.8" rx="1.6" ry="2.2"/>
<circle r="73.6" fill="none" stroke="#22227E" stroke-width="2.6"/>
<circle r="69.2" fill="none" stroke="#22227E" stroke-width="0.9"/>
<clipPath id="sealClip"><circle r="69"/></clipPath>
<g clip-path="url(#sealClip)" fill="none" stroke="#22227E" stroke-linecap="round" stroke-linejoin="round">
<ellipse cx="0" cy="-4" rx="60" ry="44" stroke="none" fill="#22227E" fill-opacity="0.15"/>
<path d="M-62.0 33.0 L-48.1 41.5 L-25.1 43.8 L-0.5 44.4 L24.1 44.9 L48.7 47.2 L61.8 33.0" stroke-width="4.6" stroke-opacity="1.0"/>
<path d="M-57.9 37.5 L56.9 39.8" stroke-width="1.4" stroke-opacity="0.8"/>
<path d="M-36.6 53.5 L-12.0 46.6 L-0.5 50.1 L11.0 46.6 L35.6 55.8" stroke-width="1.5" stroke-opacity="1.0"/>
<path d="M-25.9 57.5 L-0.5 53.5 L26.5 57.5 L24.1 66.0 L-0.5 63.7 L-23.5 66.0 Z" stroke-width="1.4" stroke-opacity="1.0"/>
<path d="M28.2 59.2 L32.3 58.0 L31.0 66.0 Z" stroke-width="2.4" stroke-opacity="1.0" fill="#22227E" fill-opacity="0.9"/>
<path d="M-1.3 -67.3 L-1.3 -54.2" stroke-width="2.6" stroke-opacity="1.0"/>
<path d="M-5.0 -62.2 L2.3 -62.2" stroke-width="2.0" stroke-opacity="1.0"/>
<path d="M-25.1 -61.1 L-12.8 -65.0 L-1.3 -66.2 L10.1 -65.0 L24.1 -61.1" stroke-width="1.6" stroke-opacity="0.85"/>
<path d="M-14.1 -57.6 L-14.1 -33.1 L-17.7 -29.7 L-25.1 -30.9" stroke-width="3.6" stroke-opacity="1.0"/>
<path d="M9.7 -57.6 L9.7 -33.1 L13.4 -29.7 L20.8 -30.9" stroke-width="3.6" stroke-opacity="1.0"/>
<path d="M-56.3 -36.0 L-36.6 -32.6 L-16.9 -30.3" stroke-width="5.6" stroke-opacity="1.0"/>
<path d="M12.6 -30.9 L36.4 -33.7 L56.9 -38.8" stroke-width="4.4" stroke-opacity="1.0"/>
<path d="M-59.6 -26.3 L-39.9 -20.6 L-17.7 -17.2" stroke-width="4.0" stroke-opacity="0.55"/>
<path d="M18.3 -19.5 L38.8 -22.9 L58.5 -26.3" stroke-width="3.6" stroke-opacity="0.5"/>
<path d="M-57.9 -30.9 L-54.6 -21.7" stroke-width="1.2" stroke-opacity="0.8"/>
<path d="M-53.2 -30.2 L-49.9 -21.1" stroke-width="1.2" stroke-opacity="0.8"/>
<path d="M-48.4 -29.5 L-45.1 -20.4" stroke-width="1.2" stroke-opacity="0.8"/>
<path d="M-43.7 -28.8 L-40.4 -19.7" stroke-width="1.2" stroke-opacity="0.8"/>
<path d="M-38.9 -28.1 L-35.6 -19.0" stroke-width="1.2" stroke-opacity="0.8"/>
<path d="M-34.1 -27.4 L-30.9 -18.3" stroke-width="1.2" stroke-opacity="0.8"/>
<path d="M-29.4 -26.7 L-26.1 -17.6" stroke-width="1.2" stroke-opacity="0.8"/>
<path d="M-24.6 -26.1 L-21.4 -16.9" stroke-width="1.2" stroke-opacity="0.8"/>
<path d="M-19.9 -25.4 L-16.6 -16.3" stroke-width="1.2" stroke-opacity="0.8"/>
<path d="M20.0 -21.7 L23.3 -30.3" stroke-width="1.2" stroke-opacity="0.7"/>
<path d="M24.7 -22.5 L28.0 -31.1" stroke-width="1.2" stroke-opacity="0.7"/>
<path d="M29.5 -23.3 L32.8 -31.9" stroke-width="1.2" stroke-opacity="0.7"/>
<path d="M34.2 -24.1 L37.5 -32.7" stroke-width="1.2" stroke-opacity="0.7"/>
<path d="M39.0 -24.9 L42.3 -33.5" stroke-width="1.2" stroke-opacity="0.7"/>
<path d="M43.8 -25.7 L47.0 -34.3" stroke-width="1.2" stroke-opacity="0.7"/>
<path d="M48.5 -26.5 L51.8 -35.1" stroke-width="1.2" stroke-opacity="0.7"/>
<path d="M53.3 -27.3 L56.5 -35.9" stroke-width="1.2" stroke-opacity="0.7"/>
<path d="M-44.0 -48.5 L-30.0 -50.2 L-15.7 -43.4" stroke-width="1.0" stroke-opacity="0.55"/>
<path d="M15.1 -43.4 L29.0 -49.7 L40.5 -42.2" stroke-width="1.0" stroke-opacity="0.55"/>
<path d="M-42.3 -45.7 L-30.0 -47.4 L-15.7 -41.1" stroke-width="1.0" stroke-opacity="0.55"/>
<path d="M15.1 -41.1 L29.0 -46.8 L40.5 -39.7" stroke-width="1.0" stroke-opacity="0.55"/>
<path d="M-40.7 -42.8 L-30.0 -44.5 L-15.7 -38.8" stroke-width="1.0" stroke-opacity="0.55"/>
<path d="M15.1 -38.8 L29.0 -44.0 L40.5 -37.2" stroke-width="1.0" stroke-opacity="0.55"/>
<path d="M-39.1 -40.0 L-30.0 -41.7 L-15.7 -36.6" stroke-width="1.0" stroke-opacity="0.55"/>
<path d="M15.1 -36.6 L29.0 -41.1 L40.5 -34.7" stroke-width="1.0" stroke-opacity="0.55"/>
<ellipse cx="-1.3" cy="-42.2" rx="5.2" ry="7" stroke-width="2.2"/>
<ellipse cx="-1.3" cy="-43.2" rx="2.2" ry="2.6" stroke-width="1.3"/>
<path d="M-12.0 -27.4 L-6.3 -17.2 L-0.5 -12.6 L6.0 -17.2 L11.8 -27.4" stroke-width="2.6" stroke-opacity="1.0"/>
<path d="M-10.4 -32.0 L-1.3 -21.7 L7.7 -32.0" stroke-width="1.8" stroke-opacity="0.8"/>
<circle cx="-0.5" cy="-13.8" r="3" stroke-width="1.6"/>
<path d="M-23.5 -8.1 L-8.7 -11.5 L4.4 -2.4 L24.1 -1.2" stroke-width="4.8" stroke-opacity="1.0"/>
<path d="M-29.2 -12.6 L-16.9 -17.2 L-0.5 -8.1 L20.0 -12.6 L30.6 -13.8" stroke-width="2.0" stroke-opacity="0.8"/>
<path d="M-20.2 -1.2 L-0.5 5.6 L22.4 3.3" stroke-width="2.6" stroke-opacity="0.85"/>
<path d="M-25.1 -1.2 L-25.9 37.5" stroke-width="4.6" stroke-opacity="1.0"/>
<path d="M-30.0 1.1 L-30.0 37.5" stroke-width="2.2" stroke-opacity="0.8"/>
<path d="M24.9 1.1 L25.7 38.7" stroke-width="4.6" stroke-opacity="1.0"/>
<path d="M20.0 7.9 L20.4 37.5" stroke-width="2.4" stroke-opacity="0.85"/>
<path d="M-16.9 5.6 L-10.4 19.3 L-3.8 34.1" stroke-width="3.4" stroke-opacity="1.0"/>
<path d="M-10.4 6.8 L-3.8 19.3 L2.8 33.0" stroke-width="3.0" stroke-opacity="1.0"/>
<path d="M-20.2 10.2 L-16.9 28.4 L-15.3 37.5" stroke-width="1.6" stroke-opacity="0.8"/>
<path d="M11.8 14.7 L10.1 28.4 L12.6 36.4" stroke-width="3.0" stroke-opacity="1.0"/>
<path d="M15.1 12.5 L15.9 21.6" stroke-width="2.4" stroke-opacity="1.0"/>
<path d="M-25.9 -1.2 L25.7 1.1 L25.7 38.7 L-25.9 37.5 Z" stroke-width="0.1" stroke-opacity="1.0" fill="#22227E" fill-opacity="0.22"/>
<path d="M-31.7 13.6 L-36.6 1.1 L-44.0 -11.5 L-53.0 -13.8 L-59.6 -5.8 L-64.5 3.3 L-64.9 19.3 L-61.2 31.8" stroke-width="1.8" stroke-opacity="1.0"/>
<path d="M-62.8 2.2 L-55.5 7.9 L-52.2 13.6 L-44.0 12.5 L-36.6 10.2" stroke-width="2.8" stroke-opacity="1.0"/>
<path d="M-57.9 -8.1 L-48.1 -5.8 L-41.5 1.1" stroke-width="1.6" stroke-opacity="0.8"/>
<path d="M-55.5 -2.4 L-46.4 1.1 L-39.9 7.9" stroke-width="1.3" stroke-opacity="0.7"/>
<path d="M-63.7 21.6 L-55.5 18.2 L-48.1 21.6 L-39.9 19.3" stroke-width="1.5" stroke-opacity="0.75"/>
<path d="M-61.2 31.8 L-48.1 28.4 L-33.3 21.6 L-30.0 28.4 L-47.3 38.7 Z" stroke-width="2.6" stroke-opacity="1.0" fill="#22227E" fill-opacity="0.5"/>
<path d="M-44.0 30.7 L-36.6 25.0" stroke-width="2.6" stroke-opacity="1.0"/>
<path d="M33.9 13.6 L38.0 -1.2 L43.8 -11.5 L52.0 -13.8 L58.5 -8.1 L61.8 5.6 L60.2 28.4 L52.8 39.8" stroke-width="1.8" stroke-opacity="1.0"/>
<path d="M52.8 -12.6 L60.2 -3.5 L61.4 10.2 L58.5 25.0" stroke-width="4.8" stroke-opacity="1.0"/>
<path d="M35.6 5.6 L45.4 3.3 L53.6 5.6" stroke-width="1.6" stroke-opacity="0.8"/>
<path d="M32.3 17.0 L45.4 15.9 L56.9 19.3" stroke-width="2.6" stroke-opacity="1.0"/>
<path d="M38.0 28.4 L47.0 30.7 L56.9 28.4" stroke-width="3.0" stroke-opacity="1.0"/>
<path d="M45.4 -8.1 L48.7 1.1 L55.2 -1.2" stroke-width="1.5" stroke-opacity="0.8"/>
<path d="M40.5 34.1 L50.3 37.5 L58.5 34.1" stroke-width="1.5" stroke-opacity="0.7"/>
<path d="M-13.6 -30.9 L11.8 -30.9 L18.3 -10.3 L-0.5 -1.2 L-20.2 -10.3 Z" stroke-width="0.1" stroke-opacity="1.0" fill="#22227E" fill-opacity="0.28"/>
<path d="M-16.9 -24.0 L-14.5 -12.6" stroke-width="1.3" stroke-opacity="0.75"/>
<path d="M-12.0 -25.2 L-9.5 -12.6" stroke-width="1.3" stroke-opacity="0.75"/>
<path d="M-7.1 -26.3 L-4.6 -12.6" stroke-width="1.3" stroke-opacity="0.75"/>
<path d="M-2.2 -27.4 L0.3 -12.6" stroke-width="1.3" stroke-opacity="0.75"/>
<path d="M2.8 -26.3 L5.2 -12.6" stroke-width="1.3" stroke-opacity="0.75"/>
<path d="M7.7 -25.2 L10.1 -12.6" stroke-width="1.3" stroke-opacity="0.75"/>
<path d="M12.6 -24.0 L15.1 -12.6" stroke-width="1.3" stroke-opacity="0.75"/>
<path d="M-62.0 5.6 L-57.9 14.7" stroke-width="1.1" stroke-opacity="0.6"/>
<path d="M-57.5 5.6 L-53.4 14.7" stroke-width="1.1" stroke-opacity="0.6"/>
<path d="M-53.0 5.6 L-48.9 14.7" stroke-width="1.1" stroke-opacity="0.6"/>
<path d="M-48.5 5.6 L-44.4 14.7" stroke-width="1.1" stroke-opacity="0.6"/>
<path d="M-44.0 5.6 L-39.9 14.7" stroke-width="1.1" stroke-opacity="0.6"/>
<path d="M-39.5 5.6 L-35.4 14.7" stroke-width="1.1" stroke-opacity="0.6"/>
<path d="M36.4 6.8 L39.7 14.7" stroke-width="1.1" stroke-opacity="0.6"/>
<path d="M40.9 6.8 L44.2 14.7" stroke-width="1.1" stroke-opacity="0.6"/>
<path d="M45.4 6.8 L48.7 14.7" stroke-width="1.1" stroke-opacity="0.6"/>
<path d="M49.9 6.8 L53.2 14.7" stroke-width="1.1" stroke-opacity="0.6"/>
<path d="M54.4 6.8 L57.7 14.7" stroke-width="1.1" stroke-opacity="0.6"/>
<path d="M-36.6 33.0 L-25.1 37.5" stroke-width="3.0" stroke-opacity="1.0"/>
<path d="M25.7 37.5 L37.2 34.1" stroke-width="3.0" stroke-opacity="1.0"/>
</g>
<text x="0" y="62" font-size="6" text-anchor="middle" textLength="36" lengthAdjust="spacingAndGlyphs" fill-opacity="0.8">MEDIOLANI</text>
</g></svg>
<div class="box" style="left:147px;top:302px;width:702px;height:103.5px"></div>
<div class="box" style="left:918px;top:302px;width:793px;height:103.5px"></div>
<div class="box" style="left:154px;top:1135.5px;width:702px;height:103px"></div>
<div class="box" style="left:1787px;top:1315.5px;width:1255px;height:104.5px"></div>
<div class="ln title" style="left:0;top:78.38px;font-size:47.1px;font-weight:bold"><span class="w" style="left:344.31px;letter-spacing:-0.894px">Emergencies </span><span class="w" style="left:640.16px;letter-spacing:0.312px">in </span><span class="w" style="left:694.73px;letter-spacing:-0.692px">cancer </span><span class="w" style="left:855.32px;letter-spacing:0.270px">patients: </span><span class="w" style="left:1066.51px;letter-spacing:0.927px">data </span><span class="w" style="left:1179.08px;letter-spacing:0.399px">on </span><span class="w" style="left:1250.67px;letter-spacing:1.261px">15,623 </span><span class="w" style="left:1412.29px;letter-spacing:-2.218px">cases </span><span class="w" style="left:1546.08px;letter-spacing:1.134px">from </span><span class="w" style="left:1668.14px;letter-spacing:0.614px">a </span><span class="w" style="left:1706.12px;letter-spacing:-0.251px">large </span><span class="w" style="left:1830.33px;letter-spacing:0.582px">volume </span><span class="w" style="left:2009.93px;letter-spacing:-0.922px">single </span><span class="w" style="left:2153.42px;letter-spacing:0.366px">centre </span><span class="w" style="left:2309.59px;letter-spacing:1.134px">from </span><span class="w" style="left:2431.65px;letter-spacing:1.330px">2001 </span><span class="w" style="left:2554.01px;letter-spacing:1.519px">to </span><span class="w" style="left:2613.81px;letter-spacing:1.348px">2013.</span></div>
<div class="ln auth" style="font-style:italic;font-weight:bold;left:371.61px;top:177.94px;font-size:29.6px;letter-spacing:0.003px">C. Pozzo*, M. Covino§, M Di Salvatore *, E. Gilardi§, E. Rossi*, V. P. Di Noia*, D. Marsiliani§, C. Cordischi§,  E. Fasano*, E. Forte§, A. Astone*, F. Franceschi§, C. Barone*</div>
<div class="ln auth" style="font-style:italic;font-weight:bold;left:486.07px;top:214.19px;font-size:29.6px;letter-spacing:0.021px">*Medical Oncology, Catholic University of the Sacred Heart, Rome, Italy;§Emergency Department, Catholic University of the Sacred Heart, Rome, Italy;</div>
<div class="ln sec" style="font-weight:bold;left:319.44px;top:324.11px;font-size:61.0px;letter-spacing:-0.136px">Introduction</div>
<div class="ln sec" style="font-weight:bold;left:1203.09px;top:324.11px;font-size:61.0px;letter-spacing:0.106px">Results</div>
<div class="ln sec" style="font-weight:bold;left:378.69px;top:1157.61px;font-size:61.0px;letter-spacing:-0.121px">Methods</div>
<div class="ln sec" style="font-weight:bold;left:2232.34px;top:1338.36px;font-size:61.0px;letter-spacing:-0.240px">Conclusions</div>
<div class="ln" style="left:2996.4px;top:-2.4px;font-size:43.9px;font-weight:bold;transform-origin:0 0;transform:scaleX(0.965)">R09</div>
<div class="para p-intro" style="font-size:35.3px;font-weight:normal">
<div class="ln" style="left:0;top:436.37px"><span class="w" style="left:156.42px;letter-spacing:-0.255px">Cancer </span><span class="w" style="left:286.29px;letter-spacing:1.005px">patients </span><span class="w" style="left:434.71px;letter-spacing:0.708px">(pts) </span><span class="w" style="left:525.29px;letter-spacing:0.883px">present </span><span class="w" style="left:666.09px;letter-spacing:1.540px">often </span><span class="w" style="left:769.53px;letter-spacing:2.353px">with</span></div>
<div class="ln" style="left:0;top:483.82px"><span class="w" style="left:157.18px;letter-spacing:0.721px">acute </span><span class="w" style="left:277.32px;letter-spacing:0.479px">syndromes </span><span class="w" style="left:484.41px;letter-spacing:1.127px">requiring </span><span class="w" style="left:661.52px;letter-spacing:0.456px">an </span><span class="w" style="left:731.82px;letter-spacing:1.127px">urgent</span></div>
<div class="ln" style="left:0;top:531.27px"><span class="w" style="left:156.09px;letter-spacing:0.894px">management. </span><span class="w" style="left:447.43px;letter-spacing:-0.339px">This </span><span class="w" style="left:580.46px;letter-spacing:0.429px">scenario </span><span class="w" style="left:783.41px;letter-spacing:-0.365px">has</span></div>
<div class="ln" style="left:0;top:578.72px"><span class="w" style="left:157.25px;letter-spacing:0.851px">dramatically </span><span class="w" style="left:364.43px;letter-spacing:0.297px">changed </span><span class="w" style="left:511.30px;letter-spacing:1.146px">during </span><span class="w" style="left:625.77px;letter-spacing:1.748px">the </span><span class="w" style="left:688.22px;letter-spacing:0.500px">last </span><span class="w" style="left:753.61px;letter-spacing:-0.147px">years</span></div>
<div class="ln" style="left:0;top:626.17px"><span class="w" style="left:157.33px;letter-spacing:1.012px">due </span><span class="w" style="left:228.72px;letter-spacing:2.331px">to </span><span class="w" style="left:271.08px;letter-spacing:1.748px">the </span><span class="w" style="left:333.39px;letter-spacing:0.960px">higher </span><span class="w" style="left:445.60px;letter-spacing:0.500px">prevalence </span><span class="w" style="left:632.50px;letter-spacing:1.931px">of </span><span class="w" style="left:673.52px;letter-spacing:0.261px">cancer </span><span class="w" style="left:790.00px;letter-spacing:0.931px">pts</span></div>
<div class="ln" style="left:0;top:673.62px"><span class="w" style="left:157.53px;letter-spacing:1.423px">on </span><span class="w" style="left:218.08px;letter-spacing:0.621px">active </span><span class="w" style="left:333.57px;letter-spacing:1.587px">treatment, </span><span class="w" style="left:526.55px;letter-spacing:0.765px">and </span><span class="w" style="left:606.66px;letter-spacing:0.379px">specific </span><span class="w" style="left:746.21px;letter-spacing:0.889px">drug–</span></div>
<div class="ln" style="left:0;top:721.07px"><span class="w" style="left:156.16px;letter-spacing:1.035px">related </span><span class="w" style="left:280.00px;letter-spacing:0.466px">safety </span><span class="w" style="left:384.78px;letter-spacing:-0.391px">issues. </span><span class="w" style="left:500.67px;letter-spacing:-0.139px">The </span><span class="w" style="left:570.82px;letter-spacing:1.138px">aim </span><span class="w" style="left:640.26px;letter-spacing:1.931px">of </span><span class="w" style="left:682.12px;letter-spacing:1.077px">this </span><span class="w" style="left:750.04px;letter-spacing:0.872px">study</span></div>
<div class="ln" style="left:0;top:768.52px"><span class="w" style="left:158.30px;letter-spacing:0.058px">was </span><span class="w" style="left:256.36px;letter-spacing:2.331px">to </span><span class="w" style="left:323.69px;letter-spacing:1.400px">determine </span><span class="w" style="left:527.61px;letter-spacing:1.748px">the </span><span class="w" style="left:615.42px;letter-spacing:1.199px">main </span><span class="w" style="left:730.27px;letter-spacing:0.557px">clinical</span></div>
<div class="ln" style="left:0;top:815.97px"><span class="w" style="left:157.04px;letter-spacing:0.432px">characteristics, </span><span class="w" style="left:449.54px;letter-spacing:0.913px">relevant </span><span class="w" style="left:631.99px;letter-spacing:0.260px">needs </span><span class="w" style="left:779.53px;letter-spacing:0.765px">and</span></div>
<div class="ln" style="left:0;top:863.42px"><span class="w" style="left:155.84px;letter-spacing:0.395px">possible </span><span class="w" style="left:307.70px;letter-spacing:0.894px">outcomes </span><span class="w" style="left:486.89px;letter-spacing:1.360px">in </span><span class="w" style="left:536.76px;letter-spacing:1.748px">the </span><span class="w" style="left:609.72px;letter-spacing:1.359px">population </span><span class="w" style="left:805.44px;letter-spacing:1.931px">of</span></div>
<div class="ln" style="left:0;top:910.87px"><span class="w" style="left:156.95px;letter-spacing:0.261px">cancer </span><span class="w" style="left:286.34px;letter-spacing:0.931px">pts </span><span class="w" style="left:357.88px;letter-spacing:1.472px">admitted </span><span class="w" style="left:527.17px;letter-spacing:2.331px">to </span><span class="w" style="left:582.16px;letter-spacing:1.678px">our </span><span class="w" style="left:658.67px;letter-spacing:0.076px">Emergency</span></div>
<div class="ln" style="left:0;top:958.32px"><span class="w" style="left:156.05px;letter-spacing:1.350px">Department </span><span class="w" style="left:363.26px;letter-spacing:-1.037px">(ED)</span></div>
</div>
<div class="para p-methods" style="font-size:35.3px;font-weight:normal">
<div class="ln" style="left:0;top:1278.87px"><span class="w" style="left:157.93px;letter-spacing:0.856px">We </span><span class="w" style="left:242.30px;letter-spacing:1.473px">performed </span><span class="w" style="left:445.29px;letter-spacing:-0.472px">a </span><span class="w" style="left:495.13px;letter-spacing:0.935px">retrospective </span><span class="w" style="left:739.47px;letter-spacing:1.503px">cohort</span></div>
<div class="ln" style="left:0;top:1326.22px"><span class="w" style="left:157.04px;letter-spacing:0.872px">study </span><span class="w" style="left:254.77px;letter-spacing:1.423px">on </span><span class="w" style="left:305.83px;letter-spacing:0.563px">15,623 </span><span class="w" style="left:426.05px;letter-spacing:0.931px">pts </span><span class="w" style="left:485.47px;letter-spacing:2.145px">out </span><span class="w" style="left:549.87px;letter-spacing:1.931px">of </span><span class="w" style="left:591.86px;letter-spacing:0.537px">1,101,259 </span><span class="w" style="left:762.80px;letter-spacing:1.445px">adult</span></div>
<div class="ln" style="left:0;top:1373.57px"><span class="w" style="left:155.61px;letter-spacing:0.931px">pts </span><span class="w" style="left:221.06px;letter-spacing:0.024px">(1.42%) </span><span class="w" style="left:360.96px;letter-spacing:1.472px">admitted </span><span class="w" style="left:524.54px;letter-spacing:2.331px">to </span><span class="w" style="left:573.82px;letter-spacing:1.678px">our </span><span class="w" style="left:643.36px;letter-spacing:-2.448px">ED </span><span class="w" style="left:705.44px;letter-spacing:1.386px">between</span></div>
<div class="ln" style="left:0;top:1420.92px"><span class="w" style="left:156.90px;letter-spacing:-0.033px">January </span><span class="w" style="left:307.45px;letter-spacing:0.641px">2001 </span><span class="w" style="left:413.99px;letter-spacing:0.765px">and </span><span class="w" style="left:500.04px;letter-spacing:0.664px">December </span><span class="w" style="left:693.21px;letter-spacing:0.641px">2013 </span><span class="w" style="left:800.16px;letter-spacing:1.737px">for</span></div>
<div class="ln" style="left:0;top:1468.27px"><span class="w" style="left:156.61px;letter-spacing:0.581px">cancer-related </span><span class="w" style="left:416.79px;letter-spacing:0.913px">problems. </span><span class="w" style="left:605.62px;letter-spacing:0.387px">Demographics,</span></div>
<div class="ln" style="left:0;top:1515.62px"><span class="w" style="left:156.60px;letter-spacing:0.557px">clinical </span><span class="w" style="left:289.39px;letter-spacing:0.775px">findings </span><span class="w" style="left:439.70px;letter-spacing:0.765px">and </span><span class="w" style="left:523.38px;letter-spacing:0.866px">hospitalization </span><span class="w" style="left:782.51px;letter-spacing:0.990px">rate</span></div>
<div class="ln" style="left:0;top:1562.97px"><span class="w" style="left:158.39px;letter-spacing:1.238px">were </span><span class="w" style="left:263.78px;letter-spacing:0.771px">gathered </span><span class="w" style="left:434.19px;letter-spacing:1.989px">from </span><span class="w" style="left:537.29px;letter-spacing:1.748px">the </span><span class="w" style="left:615.35px;letter-spacing:1.008px">administrative</span></div>
<div class="ln" style="left:0;top:1610.32px"><span class="w" style="left:156.60px;letter-spacing:-0.004px">sources </span><span class="w" style="left:288.62px;letter-spacing:1.931px">of </span><span class="w" style="left:329.82px;letter-spacing:1.748px">the </span><span class="w" style="left:391.11px;letter-spacing:0.519px">local </span><span class="w" style="left:473.87px;letter-spacing:0.293px">database<span style="font-size:0.72em">.</span></span></div>
</div>
<div class="para p-results" style="font-size:35.3px;font-weight:normal">
<div class="ln" style="left:0;top:420.12px"><span class="w" style="left:927.56px;letter-spacing:1.494px">Mean </span><span class="w" style="left:1042.38px;letter-spacing:-0.446px">age </span><span class="w" style="left:1122.01px;letter-spacing:0.058px">was </span><span class="w" style="left:1206.34px;letter-spacing:0.515px">65.1±14.8, </span><span class="w" style="left:1400.76px;letter-spacing:1.679px">women </span><span class="w" style="left:1543.85px;letter-spacing:0.500px">prevalence</span></div>
<div class="ln" style="left:0;top:467.57px"><span class="w" style="left:929.24px;letter-spacing:0.783px">slightly </span><span class="w" style="left:1062.12px;letter-spacing:0.568px">higher. </span><span class="w" style="left:1190.34px;letter-spacing:-0.139px">The </span><span class="w" style="left:1271.08px;letter-spacing:1.605px">majority </span><span class="w" style="left:1426.61px;letter-spacing:1.931px">of </span><span class="w" style="left:1478.12px;letter-spacing:0.445px">visits </span><span class="w" style="left:1578.55px;letter-spacing:0.860px">occurred</span></div>
<div class="ln" style="left:0;top:515.02px"><span class="w" style="left:929.15px;letter-spacing:1.146px">during </span><span class="w" style="left:1049.54px;letter-spacing:1.408px">normal </span><span class="w" style="left:1180.75px;letter-spacing:0.746px">hours </span><span class="w" style="left:1287.89px;letter-spacing:0.024px">(77.6%) </span><span class="w" style="left:1426.87px;letter-spacing:0.765px">and </span><span class="w" style="left:1503.70px;letter-spacing:1.262px">working </span><span class="w" style="left:1648.31px;letter-spacing:-0.438px">days</span></div>
<div class="ln" style="left:0;top:562.47px"><span class="w" style="left:927.70px;letter-spacing:0.057px">(74.4%). </span><span class="w" style="left:1078.75px;letter-spacing:-0.354px">Pts </span><span class="w" style="left:1148.15px;letter-spacing:2.145px">not </span><span class="w" style="left:1221.08px;letter-spacing:1.127px">requiring </span><span class="w" style="left:1385.65px;letter-spacing:-0.472px">a </span><span class="w" style="left:1423.30px;letter-spacing:1.127px">urgent </span><span class="w" style="left:1548.80px;letter-spacing:1.587px">treatment,</span></div>
<div class="ln" style="left:0;top:609.92px"><span class="w" style="left:928.80px;letter-spacing:0.459px">according </span><span class="w" style="left:1111.19px;letter-spacing:2.331px">to </span><span class="w" style="left:1168.64px;letter-spacing:0.963px">triage </span><span class="w" style="left:1286.00px;letter-spacing:-0.057px">assessment, </span><span class="w" style="left:1508.39px;letter-spacing:1.238px">were </span><span class="w" style="left:1612.76px;letter-spacing:-0.048px">60.4%.</span></div>
<div class="ln" style="left:0;top:657.37px"><span class="w" style="left:928.57px;letter-spacing:0.551px">Only </span><span class="w" style="left:1011.87px;letter-spacing:-0.116px">14.7% </span><span class="w" style="left:1120.21px;letter-spacing:1.931px">of </span><span class="w" style="left:1161.27px;letter-spacing:0.931px">pts </span><span class="w" style="left:1219.63px;letter-spacing:1.238px">were </span><span class="w" style="left:1309.08px;letter-spacing:1.095px">referred </span><span class="w" style="left:1450.41px;letter-spacing:2.331px">to </span><span class="w" style="left:1489.87px;letter-spacing:-2.448px">ED </span><span class="w" style="left:1544.11px;letter-spacing:0.822px">by </span><span class="w" style="left:1591.44px;letter-spacing:1.401px">another</span></div>
<div class="ln" style="left:0;top:704.82px"><span class="w" style="left:927.56px;letter-spacing:0.328px">physician </span><span class="w" style="left:1087.18px;letter-spacing:-1.438px">(GPs, </span><span class="w" style="left:1181.15px;letter-spacing:0.397px">surgeon, </span><span class="w" style="left:1331.78px;letter-spacing:0.762px">medical </span><span class="w" style="left:1468.76px;letter-spacing:0.698px">oncologist). </span><span class="w" style="left:1667.18px;letter-spacing:-0.026px">For</span></div>
<div class="ln" style="left:0;top:752.27px"><span class="w" style="left:928.24px;letter-spacing:-0.116px">63.2% </span><span class="w" style="left:1058.49px;letter-spacing:2.464px">it </span><span class="w" style="left:1109.72px;letter-spacing:0.058px">was </span><span class="w" style="left:1201.61px;letter-spacing:-0.472px">a </span><span class="w" style="left:1250.92px;letter-spacing:0.450px">self-decision </span><span class="w" style="left:1482.26px;letter-spacing:0.765px">and </span><span class="w" style="left:1572.71px;letter-spacing:0.058px">was </span><span class="w" style="left:1665.99px;letter-spacing:2.145px">not</span></div>
<div class="ln" style="left:0;top:799.72px"><span class="w" style="left:929.15px;letter-spacing:0.603px">specified </span><span class="w" style="left:1097.02px;letter-spacing:1.737px">for </span><span class="w" style="left:1166.66px;letter-spacing:1.748px">the </span><span class="w" style="left:1243.32px;letter-spacing:0.961px">remaining </span><span class="w" style="left:1429.77px;letter-spacing:0.877px">group. </span><span class="w" style="left:1557.17px;letter-spacing:-0.139px">The </span><span class="w" style="left:1641.34px;letter-spacing:0.861px">chief</span></div>
<div class="ln" style="left:0;top:847.17px"><span class="w" style="left:929.03px;letter-spacing:0.913px">complaints </span><span class="w" style="left:1132.73px;letter-spacing:1.238px">were </span><span class="w" style="left:1239.18px;letter-spacing:0.793px">fever </span><span class="w" style="left:1346.46px;letter-spacing:-0.068px">21.5%, </span><span class="w" style="left:1482.28px;letter-spacing:0.908px">pain </span><span class="w" style="left:1577.29px;letter-spacing:-0.068px">27.7%, </span><span class="w" style="left:1712.46px;letter-spacing:0.173px">,</span></div>
<div class="ln" style="left:0;top:894.62px"><span class="w" style="left:928.86px;letter-spacing:0.571px">asthenia </span><span class="w" style="left:1079.84px;letter-spacing:-0.068px">13.6%, </span><span class="w" style="left:1202.01px;letter-spacing:0.290px">dyspnea </span><span class="w" style="left:1350.59px;letter-spacing:-0.068px">13.1%, </span><span class="w" style="left:1473.00px;letter-spacing:0.771px">gastrointestinal</span></div>
<div class="ln" style="left:0;top:942.07px"><span class="w" style="left:928.28px;letter-spacing:1.220px">(vomiting </span><span class="w" style="left:1104.38px;letter-spacing:-0.068px">15.3%, </span><span class="w" style="left:1236.54px;letter-spacing:0.976px">diarrhea </span><span class="w" style="left:1395.57px;letter-spacing:-0.112px">2.7%), </span><span class="w" style="left:1520.34px;letter-spacing:0.965px">hematologic</span></div>
<div class="ln" style="left:0;top:989.52px"><span class="w" style="left:928.03px;letter-spacing:0.710px">(anemia </span><span class="w" style="left:1154.45px;letter-spacing:-0.210px">4.3%, </span><span class="w" style="left:1339.26px;letter-spacing:1.231px">neutropenia </span><span class="w" style="left:1633.62px;letter-spacing:-0.210px">1.9%,</span></div>
<div class="ln" style="left:0;top:1036.97px"><span class="w" style="left:930.12px;letter-spacing:1.366px">thrombocytopenia </span><span class="w" style="left:1242.39px;letter-spacing:-0.093px">0.5%). </span><span class="w" style="left:1355.33px;letter-spacing:0.603px">Complaints </span><span class="w" style="left:1549.52px;letter-spacing:0.927px">related, </span><span class="w" style="left:1686.14px;letter-spacing:1.826px">or</span></div>
<div class="ln" style="left:0;top:1084.42px"><span class="w" style="left:927.61px;letter-spacing:0.418px">possibly </span><span class="w" style="left:1099.38px;letter-spacing:0.927px">related, </span><span class="w" style="left:1266.04px;letter-spacing:2.331px">to </span><span class="w" style="left:1339.61px;letter-spacing:0.456px">an </span><span class="w" style="left:1420.51px;letter-spacing:0.621px">active </span><span class="w" style="left:1557.68px;letter-spacing:1.817px">antitumor</span></div>
<div class="ln" style="left:0;top:1131.87px"><span class="w" style="left:930.23px;letter-spacing:1.587px">treatment, </span><span class="w" style="left:1119.22px;letter-spacing:0.547px">i.e. </span><span class="w" style="left:1184.20px;letter-spacing:1.059px">chemotherapy </span><span class="w" style="left:1451.39px;letter-spacing:1.817px">and/or </span><span class="w" style="left:1577.32px;letter-spacing:1.139px">radiation</span></div>
<div class="ln" style="left:0;top:1179.32px"><span class="w" style="left:929.92px;letter-spacing:0.966px">therapy, </span><span class="w" style="left:1092.44px;letter-spacing:0.487px">are </span><span class="w" style="left:1175.43px;letter-spacing:1.322px">under </span><span class="w" style="left:1302.68px;letter-spacing:0.879px">evaluation </span><span class="w" style="left:1502.69px;letter-spacing:0.765px">and </span><span class="w" style="left:1594.93px;letter-spacing:1.778px">will </span><span class="w" style="left:1680.79px;letter-spacing:0.827px">be</span></div>
<div class="ln" style="left:0;top:1226.77px"><span class="w" style="left:929.33px;letter-spacing:1.518px">outlined </span><span class="w" style="left:1078.51px;letter-spacing:1.374px">at </span><span class="w" style="left:1124.57px;letter-spacing:1.748px">the </span><span class="w" style="left:1191.81px;letter-spacing:1.047px">meeting. </span><span class="w" style="left:1348.05px;letter-spacing:-0.354px">Pts </span><span class="w" style="left:1412.17px;letter-spacing:0.571px">receiving </span><span class="w" style="left:1571.90px;letter-spacing:0.456px">an </span><span class="w" style="left:1625.60px;letter-spacing:0.621px">active</span></div>
<div class="ln" style="left:0;top:1274.22px"><span class="w" style="left:930.31px;letter-spacing:1.744px">treatment </span><span class="w" style="left:1125.13px;letter-spacing:1.238px">were </span><span class="w" style="left:1235.78px;letter-spacing:-0.048px">21.9%. </span><span class="w" style="left:1375.57px;letter-spacing:-0.139px">The </span><span class="w" style="left:1467.42px;letter-spacing:1.286px">most </span><span class="w" style="left:1579.34px;letter-spacing:1.389px">common</span></div>
<div class="ln" style="left:0;top:1321.67px"><span class="w" style="left:928.70px;letter-spacing:0.261px">cancer </span><span class="w" style="left:1051.71px;letter-spacing:0.152px">sites </span><span class="w" style="left:1140.78px;letter-spacing:1.238px">were </span><span class="w" style="left:1237.08px;letter-spacing:0.771px">gastrointestinal </span><span class="w" style="left:1502.09px;letter-spacing:0.043px">(30.5%), </span><span class="w" style="left:1651.22px;letter-spacing:0.825px">lung</span></div>
<div class="ln" style="left:0;top:1369.12px"><span class="w" style="left:927.69px;letter-spacing:0.043px">(20.1%), </span><span class="w" style="left:1085.39px;letter-spacing:0.726px">ovarian </span><span class="w" style="left:1230.21px;letter-spacing:0.043px">(8.53%), </span><span class="w" style="left:1387.95px;letter-spacing:0.663px">breast </span><span class="w" style="left:1513.96px;letter-spacing:0.057px">(8.17%). </span><span class="w" style="left:1671.02px;letter-spacing:-0.354px">Pts</span></div>
<div class="ln" style="left:0;top:1416.57px"><span class="w" style="left:931.20px;letter-spacing:2.353px">with </span><span class="w" style="left:1062.36px;letter-spacing:0.894px">metastatic </span><span class="w" style="left:1291.39px;letter-spacing:-0.175px">disease </span><span class="w" style="left:1472.59px;letter-spacing:1.238px">were </span><span class="w" style="left:1612.76px;letter-spacing:-0.048px">21.2%.</span></div>
<div class="ln" style="left:0;top:1464.02px"><span class="w" style="left:927.49px;letter-spacing:0.736px">Hospitalization </span><span class="w" style="left:1176.72px;letter-spacing:0.990px">rate </span><span class="w" style="left:1249.40px;letter-spacing:0.058px">was </span><span class="w" style="left:1320.35px;letter-spacing:-0.048px">73.7%. </span><span class="w" style="left:1437.79px;letter-spacing:-0.354px">Pts </span><span class="w" style="left:1496.43px;letter-spacing:0.185px">discharge </span><span class="w" style="left:1659.80px;letter-spacing:1.012px">due</span></div>
<div class="ln" style="left:0;top:1511.47px"><span class="w" style="left:930.60px;letter-spacing:2.331px">to </span><span class="w" style="left:973.13px;letter-spacing:0.836px">symptoms </span><span class="w" style="left:1149.56px;letter-spacing:1.438px">improvement </span><span class="w" style="left:1378.29px;letter-spacing:0.058px">was </span><span class="w" style="left:1450.50px;letter-spacing:-0.048px">19.3%. </span><span class="w" style="left:1569.98px;letter-spacing:1.977px">Mortality</span></div>
<div class="ln" style="left:0;top:1558.92px"><span class="w" style="left:929.26px;letter-spacing:1.374px">at </span><span class="w" style="left:973.95px;letter-spacing:1.748px">the </span><span class="w" style="left:1037.80px;letter-spacing:-2.448px">ED </span><span class="w" style="left:1095.68px;letter-spacing:0.058px">was </span><span class="w" style="left:1170.06px;letter-spacing:-0.186px">0.9%. </span><span class="w" style="left:1272.05px;letter-spacing:0.736px">Hospitalization </span><span class="w" style="left:1524.79px;letter-spacing:0.058px">was </span><span class="w" style="left:1600.02px;letter-spacing:0.716px">refused</span></div>
<div class="ln" style="left:0;top:1606.37px"><span class="w" style="left:927.81px;letter-spacing:0.822px">by </span><span class="w" style="left:974.90px;letter-spacing:-0.305px">3.7% </span><span class="w" style="left:1064.05px;letter-spacing:1.931px">of </span><span class="w" style="left:1105.65px;letter-spacing:0.771px">pts.</span></div>
</div>
<div class="para p-concl" style="font-size:34.6px;font-weight:bold">
<div class="ln" style="left:0;top:1450.21px"><span class="w" style="left:1817.50px;letter-spacing:-0.955px">A </span><span class="w" style="left:1852.51px;letter-spacing:0.742px">better </span><span class="w" style="left:1962.92px;letter-spacing:-0.165px">understanding </span><span class="w" style="left:2211.09px;letter-spacing:0.606px">of </span><span class="w" style="left:2254.56px;letter-spacing:-0.209px">emergency </span><span class="w" style="left:2445.30px;letter-spacing:-0.408px">care </span><span class="w" style="left:2524.99px;letter-spacing:-0.336px">needs </span><span class="w" style="left:2633.57px;letter-spacing:0.415px">for </span><span class="w" style="left:2690.47px;letter-spacing:-0.615px">cancer </span><span class="w" style="left:2808.55px;letter-spacing:-0.401px">pts </span><span class="w" style="left:2868.32px;letter-spacing:-1.647px">is </span><span class="w" style="left:2904.66px;letter-spacing:-0.560px">crucial</span></div>
<div class="ln" style="left:0;top:1497.51px"><span class="w" style="left:1818.19px;letter-spacing:0.415px">for </span><span class="w" style="left:1875.02px;letter-spacing:0.377px">implementing </span><span class="w" style="left:2114.92px;letter-spacing:1.032px">the </span><span class="w" style="left:2179.03px;letter-spacing:0.379px">quality </span><span class="w" style="left:2302.97px;letter-spacing:0.606px">of </span><span class="w" style="left:2346.00px;letter-spacing:-0.408px">care </span><span class="w" style="left:2426.12px;letter-spacing:0.210px">and </span><span class="w" style="left:2497.27px;letter-spacing:0.029px">optimizing </span><span class="w" style="left:2680.93px;letter-spacing:1.032px">the </span><span class="w" style="left:2744.52px;letter-spacing:-0.828px">resources </span><span class="w" style="left:2912.79px;letter-spacing:0.606px">of </span><span class="w" style="left:2956.77px;letter-spacing:1.032px">the</span></div>
<div class="ln" style="left:0;top:1544.81px"><span class="w" style="left:1816.34px;letter-spacing:0.207px">healthcare </span><span class="w" style="left:2020.70px;letter-spacing:-0.522px">system. </span><span class="w" style="left:2176.00px;letter-spacing:0.226px">Further </span><span class="w" style="left:2328.34px;letter-spacing:-0.736px">analyses </span><span class="w" style="left:2498.77px;letter-spacing:0.210px">and </span><span class="w" style="left:2589.82px;letter-spacing:-0.250px">prospective </span><span class="w" style="left:2810.69px;letter-spacing:-0.559px">studies </span><span class="w" style="left:2958.62px;letter-spacing:0.415px">are</span></div>
<div class="ln" style="left:0;top:1592.11px"><span class="w" style="left:1818.84px;letter-spacing:0.630px">warranted </span><span class="w" style="left:2007.86px;letter-spacing:1.013px">to </span><span class="w" style="left:2060.07px;letter-spacing:0.382px">define </span><span class="w" style="left:2181.88px;letter-spacing:-0.673px">possible </span><span class="w" style="left:2335.08px;letter-spacing:-0.227px">outcomes </span><span class="w" style="left:2515.55px;letter-spacing:0.210px">and </span><span class="w" style="left:2595.62px;letter-spacing:-0.086px">algorithms </span><span class="w" style="left:2789.33px;letter-spacing:0.415px">for </span><span class="w" style="left:2855.35px;letter-spacing:1.032px">the </span><span class="w" style="left:2928.07px;letter-spacing:0.011px">most</span></div>
<div class="ln" style="left:0;top:1639.41px"><span class="w" style="left:1817.56px;letter-spacing:0.391px">appropriate </span><span class="w" style="left:2020.90px;letter-spacing:0.614px">treatments </span><span class="w" style="left:2212.65px;letter-spacing:0.606px">of </span><span class="w" style="left:2255.15px;letter-spacing:-0.016px">cancer-related </span><span class="w" style="left:2500.48px;letter-spacing:-0.055px">problems</span></div>
</div>
<svg style="left:1980px;top:306px" width="848" height="484" viewBox="1980 306 848 484">
<defs>
<linearGradient id="gOth" x1="0" x2="1" y1="0" y2="0"><stop offset="0" stop-color="#3F98B2"/><stop offset="1" stop-color="#3A8AA2"/></linearGradient>
<linearGradient id="gOva" x1="0" x2="1" y1="0" y2="0"><stop offset="0" stop-color="#70578E"/><stop offset="1" stop-color="#5F4979"/></linearGradient>
<linearGradient id="gBre" x1="0" x2="1" y1="0" y2="0"><stop offset="0" stop-color="#768F47"/><stop offset="1" stop-color="#556A2F"/></linearGradient>
<linearGradient id="gLun" x1="0" x2="1" y1="0" y2="0"><stop offset="0" stop-color="#6B2828"/><stop offset="0.55" stop-color="#4F1F1F"/><stop offset="1" stop-color="#4A1D1D"/></linearGradient>
<linearGradient id="gGas" x1="0" x2="1" y1="0" y2="0"><stop offset="0" stop-color="#3A5F8C"/><stop offset="1" stop-color="#35577F"/></linearGradient>
</defs>
<rect x="1980.75" y="306.5" width="846.75" height="482.5" fill="#fff" stroke="#868686" stroke-width="1.6"/>
<path d="M2678.3 551.7 A273.6 121.7 0 0 1 2675.7 568.4 L2668.9 623.7 A266.7 127.4 0 0 0 2671.4 606.2 Z" fill="url(#gGas)"/>
<path d="M2675.9 567.8 A273.6 121.7 0 0 1 2403.7 673.4 L2403.8 733.6 A266.7 127.4 0 0 0 2669.1 623.0 Z" fill="url(#gLun)"/>
<path d="M2404.7 673.4 A273.6 121.7 0 0 1 2249.7 652.0 L2253.6 711.2 A266.7 127.4 0 0 0 2404.7 733.6 Z" fill="url(#gBre)"/>
<path d="M2250.5 652.2 A273.6 121.7 0 0 1 2151.9 598.3 L2158.3 655.0 A266.7 127.4 0 0 0 2254.4 711.4 Z" fill="url(#gOva)"/>
<path d="M2152.3 598.7 A273.6 121.7 0 0 1 2131.1 551.7 L2138.0 606.2 A266.7 127.4 0 0 0 2158.7 655.4 Z" fill="url(#gOth)"/>
<path d="M2404.7 529.8 L2404.7 430.0 A273.6 121.7 0 0 1 2675.9 567.8 Z" fill="#4F81BD" stroke="#4F81BD" stroke-width="0.6"/>
<path d="M2404.7 529.8 L2675.9 567.8 A273.6 121.7 0 0 1 2404.7 673.4 Z" fill="#C0504D" stroke="#C0504D" stroke-width="0.6"/>
<path d="M2404.7 529.8 L2404.7 673.4 A273.6 121.7 0 0 1 2250.5 652.2 Z" fill="#9BBB59" stroke="#9BBB59" stroke-width="0.6"/>
<path d="M2404.7 529.8 L2250.5 652.2 A273.6 121.7 0 0 1 2152.3 598.7 Z" fill="#8064A2" stroke="#8064A2" stroke-width="0.6"/>
<path d="M2404.7 529.8 L2152.3 598.7 A273.6 121.7 0 0 1 2404.7 430.0 Z" fill="#4BACC6" stroke="#4BACC6" stroke-width="0.6"/>
<path d="M2404.7 430.2 L2404.7 529.8" stroke="#9cc4e4" stroke-opacity="0.55" stroke-width="1"/>
<path d="M2404.7 529.8 L2404.7 733.4" stroke="#e8b0ae" stroke-opacity="0.7" stroke-width="1"/>
<g font-size="19.4" fill="#111" text-anchor="middle">
<text x="2282.6" y="479.7" textLength="63.4" lengthAdjust="spacingAndGlyphs">Others</text>
<text x="2282.8" y="505.8" textLength="40.4" lengthAdjust="spacingAndGlyphs">34%</text>
<text x="2513.4" y="494.1" textLength="150.3" lengthAdjust="spacingAndGlyphs">Gastrointestinal</text>
<text x="2513.8" y="520.4" textLength="40.6" lengthAdjust="spacingAndGlyphs">30%</text>
<text x="2523" y="616.7" textLength="44.4" lengthAdjust="spacingAndGlyphs">Lung</text>
<text x="2522.9" y="643.0" textLength="40.6" lengthAdjust="spacingAndGlyphs">20%</text>
<text x="2355.0" y="629.3" textLength="58.2" lengthAdjust="spacingAndGlyphs">Breast</text>
<text x="2355.4" y="655.6" textLength="28.4" lengthAdjust="spacingAndGlyphs">8%</text>
<text x="2246.9" y="605.5" textLength="73.2" lengthAdjust="spacingAndGlyphs">Ovarian</text>
<text x="2247.3" y="632.3" textLength="28.5" lengthAdjust="spacingAndGlyphs">8%</text>
</g>
<text x="2391.1" y="375" font-size="35.6" font-weight="bold" text-anchor="middle" textLength="539.4" lengthAdjust="spacingAndGlyphs">The most common cancer sites</text>
</svg>
<svg style="left:1983px;top:795px" width="849" height="512" viewBox="1983 795 849 512">
<rect x="1984.25" y="796.25" width="846.25" height="509.25" fill="#fff" stroke="#868686" stroke-width="1.6"/>
<rect x="2047.25" y="986.25" width="52.75" height="241.25" fill="#7030A0"/>
<rect x="2180.5" y="906.0" width="53.00" height="321.50" fill="#974806"/>
<rect x="2314.0" y="1078.75" width="53.00" height="148.75" fill="#FFC000"/>
<rect x="2447.25" y="1078.75" width="53.75" height="148.75" fill="#558ED5"/>
<rect x="2581.5" y="1020.25" width="53.00" height="207.25" fill="#9BBB59"/>
<rect x="2715.0" y="1146.75" width="53.00" height="80.75" fill="#FF0000"/>
<path d="M2006.5 1227.5 H2808" stroke="#868686" stroke-width="1.1"/>
<g font-size="19.4" fill="#111" text-anchor="middle">
<text x="2073.22" y="972.65" textLength="36.0" lengthAdjust="spacingAndGlyphs">21%</text>
<text x="2073.62" y="1261.25" textLength="46.3" lengthAdjust="spacingAndGlyphs">Fever</text>
<text x="2206.60" y="892.40" textLength="36.0" lengthAdjust="spacingAndGlyphs">28%</text>
<text x="2207.00" y="1261.25" textLength="35.8" lengthAdjust="spacingAndGlyphs">Pain</text>
<text x="2340.10" y="1065.15" textLength="36.0" lengthAdjust="spacingAndGlyphs">13%</text>
<text x="2340.50" y="1261.25" textLength="72.75" lengthAdjust="spacingAndGlyphs">Asthenia</text>
<text x="2473.72" y="1065.15" textLength="36.0" lengthAdjust="spacingAndGlyphs">13%</text>
<text x="2474.12" y="1261.25" textLength="71.25" lengthAdjust="spacingAndGlyphs">Dyspnea</text>
<text x="2607.60" y="1006.65" textLength="36.0" lengthAdjust="spacingAndGlyphs">18%</text>
<text x="2608.00" y="1261.25" textLength="110.0" lengthAdjust="spacingAndGlyphs">GI symptoms</text>
<text x="2741.10" y="1133.15" textLength="24.5" lengthAdjust="spacingAndGlyphs">7%</text>
<text x="2741.50" y="1261.25" textLength="131.0" lengthAdjust="spacingAndGlyphs">Haematological</text>
<text x="2741.1" y="1285.75" textLength="28.75" lengthAdjust="spacingAndGlyphs">Tox</text>
</g>
<text x="2406.4" y="848" font-size="34.6" font-weight="bold" text-anchor="middle" textLength="470.3" lengthAdjust="spacingAndGlyphs">The most common complaints</text>
</svg>
</div>
</body></html>
